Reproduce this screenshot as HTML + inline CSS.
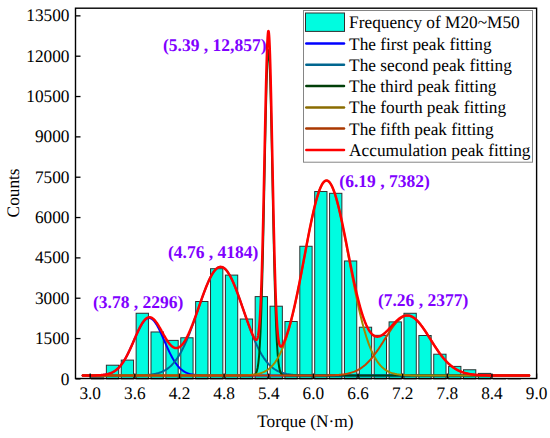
<!DOCTYPE html><html><head><meta charset="utf-8"><style>html,body{margin:0;padding:0;background:#fff;}svg{display:block;}text{font-family:"Liberation Serif",serif;text-rendering:geometricPrecision;}</style></head><body>
<svg width="550" height="438" viewBox="0 0 550 438">
<rect x="0" y="0" width="550" height="438" fill="#fff"/>
<rect x="91.49" y="377.82" width="12.30" height="1.08" fill="#00fce0" stroke="#303030" stroke-width="1.00"/>
<rect x="106.37" y="365.21" width="12.30" height="13.69" fill="#00fce0" stroke="#303030" stroke-width="1.00"/>
<rect x="121.25" y="360.10" width="12.30" height="18.80" fill="#00fce0" stroke="#303030" stroke-width="1.00"/>
<rect x="136.13" y="313.26" width="12.30" height="65.64" fill="#00fce0" stroke="#303030" stroke-width="1.00"/>
<rect x="151.01" y="331.97" width="12.30" height="46.93" fill="#00fce0" stroke="#303030" stroke-width="1.00"/>
<rect x="165.89" y="340.39" width="12.30" height="38.51" fill="#00fce0" stroke="#303030" stroke-width="1.00"/>
<rect x="180.77" y="337.78" width="12.30" height="41.12" fill="#00fce0" stroke="#303030" stroke-width="1.00"/>
<rect x="195.65" y="301.50" width="12.30" height="77.40" fill="#00fce0" stroke="#303030" stroke-width="1.00"/>
<rect x="210.53" y="268.70" width="12.30" height="110.20" fill="#00fce0" stroke="#303030" stroke-width="1.00"/>
<rect x="225.41" y="275.10" width="12.30" height="103.80" fill="#00fce0" stroke="#303030" stroke-width="1.00"/>
<rect x="240.29" y="319.01" width="12.30" height="59.89" fill="#00fce0" stroke="#303030" stroke-width="1.00"/>
<rect x="255.17" y="296.61" width="12.30" height="82.29" fill="#00fce0" stroke="#303030" stroke-width="1.00"/>
<rect x="270.05" y="306.21" width="12.30" height="72.69" fill="#00fce0" stroke="#303030" stroke-width="1.00"/>
<rect x="284.93" y="321.49" width="12.30" height="57.41" fill="#00fce0" stroke="#303030" stroke-width="1.00"/>
<rect x="299.81" y="246.27" width="12.30" height="132.63" fill="#00fce0" stroke="#303030" stroke-width="1.00"/>
<rect x="314.69" y="191.52" width="12.30" height="187.38" fill="#00fce0" stroke="#303030" stroke-width="1.00"/>
<rect x="329.57" y="193.32" width="12.30" height="185.58" fill="#00fce0" stroke="#303030" stroke-width="1.00"/>
<rect x="344.45" y="260.98" width="12.30" height="117.92" fill="#00fce0" stroke="#303030" stroke-width="1.00"/>
<rect x="359.33" y="327.21" width="12.30" height="51.69" fill="#00fce0" stroke="#303030" stroke-width="1.00"/>
<rect x="374.21" y="335.33" width="12.30" height="43.57" fill="#00fce0" stroke="#303030" stroke-width="1.00"/>
<rect x="389.09" y="321.89" width="12.30" height="57.01" fill="#00fce0" stroke="#303030" stroke-width="1.00"/>
<rect x="403.97" y="313.28" width="12.30" height="65.62" fill="#00fce0" stroke="#303030" stroke-width="1.00"/>
<rect x="418.85" y="335.50" width="12.30" height="43.40" fill="#00fce0" stroke="#303030" stroke-width="1.00"/>
<rect x="433.73" y="354.21" width="12.30" height="24.69" fill="#00fce0" stroke="#303030" stroke-width="1.00"/>
<rect x="448.61" y="366.40" width="12.30" height="12.50" fill="#00fce0" stroke="#303030" stroke-width="1.00"/>
<rect x="463.49" y="369.76" width="12.30" height="9.14" fill="#00fce0" stroke="#303030" stroke-width="1.00"/>
<rect x="478.37" y="373.39" width="12.30" height="5.51" fill="#00fce0" stroke="#303030" stroke-width="1.00"/>
<rect x="493.25" y="378.50" width="12.30" height="0.40" fill="#00fce0" stroke="#303030" stroke-width="1.00"/>
<rect x="508.13" y="378.68" width="12.30" height="0.22" fill="#00fce0" stroke="#303030" stroke-width="1.00"/>
<path d="M82.76,375.51 L83.50,375.51 L84.25,375.51 L84.99,375.51 L85.74,375.50 L86.48,375.50 L87.22,375.50 L87.97,375.50 L88.71,375.49 L89.46,375.49 L90.20,375.48 L90.94,375.48 L91.69,375.47 L92.43,375.46 L93.18,375.45 L93.92,375.44 L94.66,375.42 L95.41,375.40 L96.15,375.38 L96.90,375.36 L97.64,375.33 L98.38,375.30 L99.13,375.26 L99.87,375.21 L100.62,375.16 L101.36,375.10 L102.10,375.03 L102.85,374.95 L103.59,374.86 L104.34,374.76 L105.08,374.65 L105.82,374.52 L106.57,374.37 L107.31,374.20 L108.06,374.01 L108.80,373.80 L109.54,373.57 L110.29,373.31 L111.03,373.02 L111.78,372.69 L112.52,372.34 L113.26,371.94 L114.01,371.51 L114.75,371.04 L115.50,370.52 L116.24,369.95 L116.98,369.34 L117.73,368.67 L118.47,367.96 L119.22,367.18 L119.96,366.35 L120.70,365.46 L121.45,364.51 L122.19,363.50 L122.94,362.43 L123.68,361.29 L124.42,360.10 L125.17,358.84 L125.91,357.53 L126.66,356.15 L127.40,354.73 L128.14,353.25 L128.89,351.72 L129.63,350.15 L130.38,348.54 L131.12,346.90 L131.86,345.23 L132.61,343.54 L133.35,341.84 L134.10,340.13 L134.84,338.42 L135.58,336.73 L136.33,335.05 L137.07,333.41 L137.82,331.80 L138.56,330.23 L139.30,328.73 L140.05,327.29 L140.79,325.93 L141.54,324.65 L142.28,323.46 L143.02,322.37 L143.77,321.39 L144.51,320.52 L145.26,319.77 L146.00,319.15 L146.74,318.66 L147.49,318.30 L148.23,318.08 L148.98,317.99 L149.72,318.05 L150.46,318.24 L151.21,318.56 L151.95,319.02 L152.70,319.61 L153.44,320.33 L154.18,321.17 L154.93,322.12 L155.67,323.19 L156.42,324.35 L157.16,325.61 L157.90,326.96 L158.65,328.38 L159.39,329.87 L160.14,331.42 L160.88,333.02 L161.62,334.65 L162.37,336.32 L163.11,338.02 L163.86,339.72 L164.60,341.43 L165.34,343.13 L166.09,344.83 L166.83,346.50 L167.58,348.15 L168.32,349.77 L169.06,351.35 L169.81,352.89 L170.55,354.38 L171.30,355.82 L172.04,357.20 L172.78,358.53 L173.53,359.80 L174.27,361.01 L175.02,362.16 L175.76,363.25 L176.50,364.27 L177.25,365.24 L177.99,366.14 L178.74,366.99 L179.48,367.78 L180.22,368.51 L180.97,369.18 L181.71,369.81 L182.46,370.39 L183.20,370.92 L183.94,371.40 L184.69,371.84 L185.43,372.25 L186.18,372.61 L186.92,372.94 L187.66,373.24 L188.41,373.51 L189.15,373.75 L189.90,373.97 L190.64,374.16 L191.38,374.33 L192.13,374.48 L192.87,374.62 L193.62,374.74 L194.36,374.84 L195.10,374.93 L195.85,375.01 L196.59,375.09 L197.34,375.15 L198.08,375.20 L198.82,375.25 L199.57,375.29 L200.31,375.32 L201.06,375.35 L201.80,375.38 L202.54,375.40 L203.29,375.42 L204.03,375.43 L204.78,375.45 L205.52,375.46 L206.26,375.47 L207.01,375.47 L207.75,375.48 L208.50,375.49 L209.24,375.49 L209.98,375.50 L210.73,375.50 L211.47,375.50 L212.22,375.50 L212.96,375.51 L213.70,375.51 L214.45,375.51 L215.19,375.51 L215.94,375.51 L216.68,375.51 L217.42,375.51 L218.17,375.51 L218.91,375.51 L219.66,375.51 L220.40,375.51 L221.14,375.51 L221.89,375.51 L222.63,375.51 L223.38,375.51 L224.12,375.51 L224.86,375.51 L225.61,375.51 L226.35,375.51 L227.10,375.51 L227.84,375.51 L228.58,375.51 L229.33,375.51 L230.07,375.51 L230.82,375.51 L231.56,375.51 L232.30,375.51 L233.05,375.51 L233.79,375.51 L234.54,375.51 L235.28,375.51 L236.02,375.51 L236.77,375.51 L237.51,375.51 L238.26,375.51 L239.00,375.51 L239.74,375.51 L240.49,375.51 L241.23,375.51 L241.98,375.51 L242.72,375.51 L243.46,375.51 L244.21,375.51 L244.95,375.51 L245.70,375.51 L246.44,375.51 L247.18,375.51 L247.93,375.51 L248.67,375.51 L249.42,375.51 L250.16,375.51 L250.90,375.51 L251.65,375.51 L252.39,375.51 L253.14,375.51 L253.88,375.51 L254.62,375.51 L255.37,375.51 L256.11,375.51 L256.86,375.51 L257.60,375.51 L258.34,375.51 L259.09,375.51 L259.83,375.51 L260.58,375.51 L261.32,375.51 L262.06,375.51 L262.81,375.51 L263.55,375.51 L264.30,375.51 L265.04,375.51 L265.78,375.51 L266.53,375.51 L267.27,375.51 L268.02,375.51 L268.76,375.51 L269.50,375.51 L270.25,375.51 L270.99,375.51 L271.74,375.51 L272.48,375.51 L273.22,375.51 L273.97,375.51 L274.71,375.51 L275.46,375.51 L276.20,375.51 L276.94,375.51 L277.69,375.51 L278.43,375.51 L279.18,375.51 L279.92,375.51 L280.66,375.51 L281.41,375.51 L282.15,375.51 L282.90,375.51 L283.64,375.51 L284.38,375.51 L285.13,375.51 L285.87,375.51 L286.62,375.51 L287.36,375.51 L288.10,375.51 L288.85,375.51 L289.59,375.51 L290.34,375.51 L291.08,375.51 L291.82,375.51 L292.57,375.51 L293.31,375.51 L294.06,375.51 L294.80,375.51 L295.54,375.51 L296.29,375.51 L297.03,375.51 L297.78,375.51 L298.52,375.51 L299.26,375.51 L300.01,375.51 L300.75,375.51 L301.50,375.51 L302.24,375.51 L302.98,375.51 L303.73,375.51 L304.47,375.51 L305.22,375.51 L305.96,375.51 L306.70,375.51 L307.45,375.51 L308.19,375.51 L308.94,375.51 L309.68,375.51 L310.42,375.51 L311.17,375.51 L311.91,375.51 L312.66,375.51 L313.40,375.51 L314.14,375.51 L314.89,375.51 L315.63,375.51 L316.38,375.51 L317.12,375.51 L317.86,375.51 L318.61,375.51 L319.35,375.51 L320.10,375.51 L320.84,375.51 L321.58,375.51 L322.33,375.51 L323.07,375.51 L323.82,375.51 L324.56,375.51 L325.30,375.51 L326.05,375.51 L326.79,375.51 L327.54,375.51 L328.28,375.51 L329.02,375.51 L329.77,375.51 L330.51,375.51 L331.26,375.51 L332.00,375.51 L332.74,375.51 L333.49,375.51 L334.23,375.51 L334.98,375.51 L335.72,375.51 L336.46,375.51 L337.21,375.51 L337.95,375.51 L338.70,375.51 L339.44,375.51 L340.18,375.51 L340.93,375.51 L341.67,375.51 L342.42,375.51 L343.16,375.51 L343.90,375.51 L344.65,375.51 L345.39,375.51 L346.14,375.51 L346.88,375.51 L347.62,375.51 L348.37,375.51 L349.11,375.51 L349.86,375.51 L350.60,375.51 L351.34,375.51 L352.09,375.51 L352.83,375.51 L353.58,375.51 L354.32,375.51 L355.06,375.51 L355.81,375.51 L356.55,375.51 L357.30,375.51 L358.04,375.51 L358.78,375.51 L359.53,375.51 L360.27,375.51 L361.02,375.51 L361.76,375.51 L362.50,375.51 L363.25,375.51 L363.99,375.51 L364.74,375.51 L365.48,375.51 L366.22,375.51 L366.97,375.51 L367.71,375.51 L368.46,375.51 L369.20,375.51 L369.94,375.51 L370.69,375.51 L371.43,375.51 L372.18,375.51 L372.92,375.51 L373.66,375.51 L374.41,375.51 L375.15,375.51 L375.90,375.51 L376.64,375.51 L377.38,375.51 L378.13,375.51 L378.87,375.51 L379.62,375.51 L380.36,375.51 L381.10,375.51 L381.85,375.51 L382.59,375.51 L383.34,375.51 L384.08,375.51 L384.82,375.51 L385.57,375.51 L386.31,375.51 L387.06,375.51 L387.80,375.51 L388.54,375.51 L389.29,375.51 L390.03,375.51 L390.78,375.51 L391.52,375.51 L392.26,375.51 L393.01,375.51 L393.75,375.51 L394.50,375.51 L395.24,375.51 L395.98,375.51 L396.73,375.51 L397.47,375.51 L398.22,375.51 L398.96,375.51 L399.70,375.51 L400.45,375.51 L401.19,375.51 L401.94,375.51 L402.68,375.51 L403.42,375.51 L404.17,375.51 L404.91,375.51 L405.66,375.51 L406.40,375.51 L407.14,375.51 L407.89,375.51 L408.63,375.51 L409.38,375.51 L410.12,375.51 L410.86,375.51 L411.61,375.51 L412.35,375.51 L413.10,375.51 L413.84,375.51 L414.58,375.51 L415.33,375.51 L416.07,375.51 L416.82,375.51 L417.56,375.51 L418.30,375.51 L419.05,375.51 L419.79,375.51 L420.54,375.51 L421.28,375.51 L422.02,375.51 L422.77,375.51 L423.51,375.51 L424.26,375.51 L425.00,375.51 L425.74,375.51 L426.49,375.51 L427.23,375.51 L427.98,375.51 L428.72,375.51 L429.46,375.51 L430.21,375.51 L430.95,375.51 L431.70,375.51 L432.44,375.51 L433.18,375.51 L433.93,375.51 L434.67,375.51 L435.42,375.51 L436.16,375.51 L436.90,375.51 L437.65,375.51 L438.39,375.51 L439.14,375.51 L439.88,375.51 L440.62,375.51 L441.37,375.51 L442.11,375.51 L442.86,375.51 L443.60,375.51 L444.34,375.51 L445.09,375.51 L445.83,375.51 L446.58,375.51 L447.32,375.51 L448.06,375.51 L448.81,375.51 L449.55,375.51 L450.30,375.51 L451.04,375.51 L451.78,375.51 L452.53,375.51 L453.27,375.51 L454.02,375.51 L454.76,375.51 L455.50,375.51 L456.25,375.51 L456.99,375.51 L457.74,375.51 L458.48,375.51 L459.22,375.51 L459.97,375.51 L460.71,375.51 L461.46,375.51 L462.20,375.51 L462.94,375.51 L463.69,375.51 L464.43,375.51 L465.18,375.51 L465.92,375.51 L466.66,375.51 L467.41,375.51 L468.15,375.51 L468.90,375.51 L469.64,375.51 L470.38,375.51 L471.13,375.51 L471.87,375.51 L472.62,375.51 L473.36,375.51 L474.10,375.51 L474.85,375.51 L475.59,375.51 L476.34,375.51 L477.08,375.51 L477.82,375.51 L478.57,375.51 L479.31,375.51 L480.06,375.51 L480.80,375.51 L481.54,375.51 L482.29,375.51 L483.03,375.51 L483.78,375.51 L484.52,375.51 L485.26,375.51 L486.01,375.51 L486.75,375.51 L487.50,375.51 L488.24,375.51 L488.98,375.51 L489.73,375.51 L490.47,375.51 L491.22,375.51 L491.96,375.51 L492.70,375.51 L493.45,375.51 L494.19,375.51 L494.94,375.51 L495.68,375.51 L496.42,375.51 L497.17,375.51 L497.91,375.51 L498.66,375.51 L499.40,375.51 L500.14,375.51 L500.89,375.51 L501.63,375.51 L502.38,375.51 L503.12,375.51 L503.86,375.51 L504.61,375.51 L505.35,375.51 L506.10,375.51 L506.84,375.51 L507.58,375.51 L508.33,375.51 L509.07,375.51 L509.82,375.51 L510.56,375.51 L511.30,375.51 L512.05,375.51 L512.79,375.51 L513.54,375.51 L514.28,375.51 L515.02,375.51 L515.77,375.51 L516.51,375.51 L517.26,375.51 L518.00,375.51 L518.74,375.51 L519.49,375.51 L520.23,375.51 L520.98,375.51 L521.72,375.51 L522.46,375.51 L523.21,375.51 L523.95,375.51 L524.70,375.51 L525.44,375.51 L526.18,375.51 L526.93,375.51 L527.67,375.51 L528.42,375.51 L529.16,375.51" fill="none" stroke="#0000ff" stroke-width="2.00" stroke-linejoin="round" stroke-linecap="round"/>
<path d="M82.76,375.51 L83.50,375.51 L84.25,375.51 L84.99,375.51 L85.74,375.51 L86.48,375.51 L87.22,375.51 L87.97,375.51 L88.71,375.51 L89.46,375.51 L90.20,375.51 L90.94,375.51 L91.69,375.51 L92.43,375.51 L93.18,375.51 L93.92,375.51 L94.66,375.51 L95.41,375.51 L96.15,375.51 L96.90,375.51 L97.64,375.51 L98.38,375.51 L99.13,375.51 L99.87,375.51 L100.62,375.51 L101.36,375.51 L102.10,375.51 L102.85,375.51 L103.59,375.51 L104.34,375.51 L105.08,375.51 L105.82,375.51 L106.57,375.51 L107.31,375.51 L108.06,375.51 L108.80,375.51 L109.54,375.51 L110.29,375.51 L111.03,375.51 L111.78,375.51 L112.52,375.51 L113.26,375.51 L114.01,375.51 L114.75,375.51 L115.50,375.51 L116.24,375.51 L116.98,375.51 L117.73,375.51 L118.47,375.51 L119.22,375.51 L119.96,375.51 L120.70,375.51 L121.45,375.51 L122.19,375.51 L122.94,375.50 L123.68,375.50 L124.42,375.50 L125.17,375.50 L125.91,375.50 L126.66,375.49 L127.40,375.49 L128.14,375.49 L128.89,375.49 L129.63,375.48 L130.38,375.48 L131.12,375.47 L131.86,375.47 L132.61,375.46 L133.35,375.45 L134.10,375.44 L134.84,375.43 L135.58,375.42 L136.33,375.41 L137.07,375.40 L137.82,375.38 L138.56,375.36 L139.30,375.34 L140.05,375.32 L140.79,375.30 L141.54,375.27 L142.28,375.24 L143.02,375.21 L143.77,375.18 L144.51,375.14 L145.26,375.09 L146.00,375.04 L146.74,374.99 L147.49,374.93 L148.23,374.87 L148.98,374.79 L149.72,374.72 L150.46,374.63 L151.21,374.54 L151.95,374.43 L152.70,374.32 L153.44,374.20 L154.18,374.06 L154.93,373.91 L155.67,373.76 L156.42,373.58 L157.16,373.39 L157.90,373.19 L158.65,372.97 L159.39,372.73 L160.14,372.47 L160.88,372.20 L161.62,371.90 L162.37,371.58 L163.11,371.23 L163.86,370.86 L164.60,370.46 L165.34,370.04 L166.09,369.58 L166.83,369.09 L167.58,368.58 L168.32,368.02 L169.06,367.44 L169.81,366.81 L170.55,366.15 L171.30,365.45 L172.04,364.70 L172.78,363.92 L173.53,363.09 L174.27,362.22 L175.02,361.30 L175.76,360.33 L176.50,359.32 L177.25,358.25 L177.99,357.14 L178.74,355.97 L179.48,354.76 L180.22,353.49 L180.97,352.17 L181.71,350.80 L182.46,349.37 L183.20,347.90 L183.94,346.37 L184.69,344.79 L185.43,343.16 L186.18,341.47 L186.92,339.75 L187.66,337.97 L188.41,336.15 L189.15,334.28 L189.90,332.37 L190.64,330.42 L191.38,328.44 L192.13,326.42 L192.87,324.37 L193.62,322.29 L194.36,320.19 L195.10,318.07 L195.85,315.93 L196.59,313.77 L197.34,311.61 L198.08,309.45 L198.82,307.28 L199.57,305.12 L200.31,302.97 L201.06,300.83 L201.80,298.72 L202.54,296.63 L203.29,294.57 L204.03,292.54 L204.78,290.56 L205.52,288.63 L206.26,286.74 L207.01,284.92 L207.75,283.15 L208.50,281.46 L209.24,279.83 L209.98,278.29 L210.73,276.82 L211.47,275.44 L212.22,274.16 L212.96,272.96 L213.70,271.87 L214.45,270.87 L215.19,269.98 L215.94,269.20 L216.68,268.53 L217.42,267.97 L218.17,267.52 L218.91,267.19 L219.66,266.97 L220.40,266.88 L221.14,266.90 L221.89,267.03 L222.63,267.29 L223.38,267.66 L224.12,268.14 L224.86,268.74 L225.61,269.45 L226.35,270.27 L227.10,271.20 L227.84,272.23 L228.58,273.36 L229.33,274.58 L230.07,275.90 L230.82,277.31 L231.56,278.80 L232.30,280.38 L233.05,282.03 L233.79,283.75 L234.54,285.53 L235.28,287.38 L236.02,289.28 L236.77,291.23 L237.51,293.23 L238.26,295.26 L239.00,297.33 L239.74,299.43 L240.49,301.56 L241.23,303.70 L241.98,305.85 L242.72,308.02 L243.46,310.18 L244.21,312.35 L244.95,314.51 L245.70,316.66 L246.44,318.79 L247.18,320.91 L247.93,323.00 L248.67,325.07 L249.42,327.11 L250.16,329.12 L250.90,331.09 L251.65,333.03 L252.39,334.92 L253.14,336.77 L253.88,338.58 L254.62,340.34 L255.37,342.05 L256.11,343.72 L256.86,345.33 L257.60,346.89 L258.34,348.40 L259.09,349.86 L259.83,351.27 L260.58,352.62 L261.32,353.93 L262.06,355.18 L262.81,356.38 L263.55,357.52 L264.30,358.62 L265.04,359.67 L265.78,360.67 L266.53,361.62 L267.27,362.52 L268.02,363.38 L268.76,364.19 L269.50,364.96 L270.25,365.69 L270.99,366.38 L271.74,367.03 L272.48,367.64 L273.22,368.21 L273.97,368.76 L274.71,369.26 L275.46,369.74 L276.20,370.18 L276.94,370.60 L277.69,370.99 L278.43,371.35 L279.18,371.69 L279.92,372.00 L280.66,372.29 L281.41,372.56 L282.15,372.82 L282.90,373.05 L283.64,373.26 L284.38,373.46 L285.13,373.64 L285.87,373.81 L286.62,373.97 L287.36,374.11 L288.10,374.24 L288.85,374.36 L289.59,374.47 L290.34,374.57 L291.08,374.66 L291.82,374.74 L292.57,374.82 L293.31,374.89 L294.06,374.95 L294.80,375.01 L295.54,375.06 L296.29,375.11 L297.03,375.15 L297.78,375.19 L298.52,375.22 L299.26,375.25 L300.01,375.28 L300.75,375.31 L301.50,375.33 L302.24,375.35 L302.98,375.37 L303.73,375.39 L304.47,375.40 L305.22,375.41 L305.96,375.43 L306.70,375.44 L307.45,375.45 L308.19,375.45 L308.94,375.46 L309.68,375.47 L310.42,375.47 L311.17,375.48 L311.91,375.48 L312.66,375.49 L313.40,375.49 L314.14,375.49 L314.89,375.50 L315.63,375.50 L316.38,375.50 L317.12,375.50 L317.86,375.50 L318.61,375.51 L319.35,375.51 L320.10,375.51 L320.84,375.51 L321.58,375.51 L322.33,375.51 L323.07,375.51 L323.82,375.51 L324.56,375.51 L325.30,375.51 L326.05,375.51 L326.79,375.51 L327.54,375.51 L328.28,375.51 L329.02,375.51 L329.77,375.51 L330.51,375.51 L331.26,375.51 L332.00,375.51 L332.74,375.51 L333.49,375.51 L334.23,375.51 L334.98,375.51 L335.72,375.51 L336.46,375.51 L337.21,375.51 L337.95,375.51 L338.70,375.51 L339.44,375.51 L340.18,375.51 L340.93,375.51 L341.67,375.51 L342.42,375.51 L343.16,375.51 L343.90,375.51 L344.65,375.51 L345.39,375.51 L346.14,375.51 L346.88,375.51 L347.62,375.51 L348.37,375.51 L349.11,375.51 L349.86,375.51 L350.60,375.51 L351.34,375.51 L352.09,375.51 L352.83,375.51 L353.58,375.51 L354.32,375.51 L355.06,375.51 L355.81,375.51 L356.55,375.51 L357.30,375.51 L358.04,375.51 L358.78,375.51 L359.53,375.51 L360.27,375.51 L361.02,375.51 L361.76,375.51 L362.50,375.51 L363.25,375.51 L363.99,375.51 L364.74,375.51 L365.48,375.51 L366.22,375.51 L366.97,375.51 L367.71,375.51 L368.46,375.51 L369.20,375.51 L369.94,375.51 L370.69,375.51 L371.43,375.51 L372.18,375.51 L372.92,375.51 L373.66,375.51 L374.41,375.51 L375.15,375.51 L375.90,375.51 L376.64,375.51 L377.38,375.51 L378.13,375.51 L378.87,375.51 L379.62,375.51 L380.36,375.51 L381.10,375.51 L381.85,375.51 L382.59,375.51 L383.34,375.51 L384.08,375.51 L384.82,375.51 L385.57,375.51 L386.31,375.51 L387.06,375.51 L387.80,375.51 L388.54,375.51 L389.29,375.51 L390.03,375.51 L390.78,375.51 L391.52,375.51 L392.26,375.51 L393.01,375.51 L393.75,375.51 L394.50,375.51 L395.24,375.51 L395.98,375.51 L396.73,375.51 L397.47,375.51 L398.22,375.51 L398.96,375.51 L399.70,375.51 L400.45,375.51 L401.19,375.51 L401.94,375.51 L402.68,375.51 L403.42,375.51 L404.17,375.51 L404.91,375.51 L405.66,375.51 L406.40,375.51 L407.14,375.51 L407.89,375.51 L408.63,375.51 L409.38,375.51 L410.12,375.51 L410.86,375.51 L411.61,375.51 L412.35,375.51 L413.10,375.51 L413.84,375.51 L414.58,375.51 L415.33,375.51 L416.07,375.51 L416.82,375.51 L417.56,375.51 L418.30,375.51 L419.05,375.51 L419.79,375.51 L420.54,375.51 L421.28,375.51 L422.02,375.51 L422.77,375.51 L423.51,375.51 L424.26,375.51 L425.00,375.51 L425.74,375.51 L426.49,375.51 L427.23,375.51 L427.98,375.51 L428.72,375.51 L429.46,375.51 L430.21,375.51 L430.95,375.51 L431.70,375.51 L432.44,375.51 L433.18,375.51 L433.93,375.51 L434.67,375.51 L435.42,375.51 L436.16,375.51 L436.90,375.51 L437.65,375.51 L438.39,375.51 L439.14,375.51 L439.88,375.51 L440.62,375.51 L441.37,375.51 L442.11,375.51 L442.86,375.51 L443.60,375.51 L444.34,375.51 L445.09,375.51 L445.83,375.51 L446.58,375.51 L447.32,375.51 L448.06,375.51 L448.81,375.51 L449.55,375.51 L450.30,375.51 L451.04,375.51 L451.78,375.51 L452.53,375.51 L453.27,375.51 L454.02,375.51 L454.76,375.51 L455.50,375.51 L456.25,375.51 L456.99,375.51 L457.74,375.51 L458.48,375.51 L459.22,375.51 L459.97,375.51 L460.71,375.51 L461.46,375.51 L462.20,375.51 L462.94,375.51 L463.69,375.51 L464.43,375.51 L465.18,375.51 L465.92,375.51 L466.66,375.51 L467.41,375.51 L468.15,375.51 L468.90,375.51 L469.64,375.51 L470.38,375.51 L471.13,375.51 L471.87,375.51 L472.62,375.51 L473.36,375.51 L474.10,375.51 L474.85,375.51 L475.59,375.51 L476.34,375.51 L477.08,375.51 L477.82,375.51 L478.57,375.51 L479.31,375.51 L480.06,375.51 L480.80,375.51 L481.54,375.51 L482.29,375.51 L483.03,375.51 L483.78,375.51 L484.52,375.51 L485.26,375.51 L486.01,375.51 L486.75,375.51 L487.50,375.51 L488.24,375.51 L488.98,375.51 L489.73,375.51 L490.47,375.51 L491.22,375.51 L491.96,375.51 L492.70,375.51 L493.45,375.51 L494.19,375.51 L494.94,375.51 L495.68,375.51 L496.42,375.51 L497.17,375.51 L497.91,375.51 L498.66,375.51 L499.40,375.51 L500.14,375.51 L500.89,375.51 L501.63,375.51 L502.38,375.51 L503.12,375.51 L503.86,375.51 L504.61,375.51 L505.35,375.51 L506.10,375.51 L506.84,375.51 L507.58,375.51 L508.33,375.51 L509.07,375.51 L509.82,375.51 L510.56,375.51 L511.30,375.51 L512.05,375.51 L512.79,375.51 L513.54,375.51 L514.28,375.51 L515.02,375.51 L515.77,375.51 L516.51,375.51 L517.26,375.51 L518.00,375.51 L518.74,375.51 L519.49,375.51 L520.23,375.51 L520.98,375.51 L521.72,375.51 L522.46,375.51 L523.21,375.51 L523.95,375.51 L524.70,375.51 L525.44,375.51 L526.18,375.51 L526.93,375.51 L527.67,375.51 L528.42,375.51 L529.16,375.51" fill="none" stroke="#00689a" stroke-width="2.00" stroke-linejoin="round" stroke-linecap="round"/>
<path d="M82.76,375.51 L83.50,375.51 L84.25,375.51 L84.99,375.51 L85.74,375.51 L86.48,375.51 L87.22,375.51 L87.97,375.51 L88.71,375.51 L89.46,375.51 L90.20,375.51 L90.94,375.51 L91.69,375.51 L92.43,375.51 L93.18,375.51 L93.92,375.51 L94.66,375.51 L95.41,375.51 L96.15,375.51 L96.90,375.51 L97.64,375.51 L98.38,375.51 L99.13,375.51 L99.87,375.51 L100.62,375.51 L101.36,375.51 L102.10,375.51 L102.85,375.51 L103.59,375.51 L104.34,375.51 L105.08,375.51 L105.82,375.51 L106.57,375.51 L107.31,375.51 L108.06,375.51 L108.80,375.51 L109.54,375.51 L110.29,375.51 L111.03,375.51 L111.78,375.51 L112.52,375.51 L113.26,375.51 L114.01,375.51 L114.75,375.51 L115.50,375.51 L116.24,375.51 L116.98,375.51 L117.73,375.51 L118.47,375.51 L119.22,375.51 L119.96,375.51 L120.70,375.51 L121.45,375.51 L122.19,375.51 L122.94,375.51 L123.68,375.51 L124.42,375.51 L125.17,375.51 L125.91,375.51 L126.66,375.51 L127.40,375.51 L128.14,375.51 L128.89,375.51 L129.63,375.51 L130.38,375.51 L131.12,375.51 L131.86,375.51 L132.61,375.51 L133.35,375.51 L134.10,375.51 L134.84,375.51 L135.58,375.51 L136.33,375.51 L137.07,375.51 L137.82,375.51 L138.56,375.51 L139.30,375.51 L140.05,375.51 L140.79,375.51 L141.54,375.51 L142.28,375.51 L143.02,375.51 L143.77,375.51 L144.51,375.51 L145.26,375.51 L146.00,375.51 L146.74,375.51 L147.49,375.51 L148.23,375.51 L148.98,375.51 L149.72,375.51 L150.46,375.51 L151.21,375.51 L151.95,375.51 L152.70,375.51 L153.44,375.51 L154.18,375.51 L154.93,375.51 L155.67,375.51 L156.42,375.51 L157.16,375.51 L157.90,375.51 L158.65,375.51 L159.39,375.51 L160.14,375.51 L160.88,375.51 L161.62,375.51 L162.37,375.51 L163.11,375.51 L163.86,375.51 L164.60,375.51 L165.34,375.51 L166.09,375.51 L166.83,375.51 L167.58,375.51 L168.32,375.51 L169.06,375.51 L169.81,375.51 L170.55,375.51 L171.30,375.51 L172.04,375.51 L172.78,375.51 L173.53,375.51 L174.27,375.51 L175.02,375.51 L175.76,375.51 L176.50,375.51 L177.25,375.51 L177.99,375.51 L178.74,375.51 L179.48,375.51 L180.22,375.51 L180.97,375.51 L181.71,375.51 L182.46,375.51 L183.20,375.51 L183.94,375.51 L184.69,375.51 L185.43,375.51 L186.18,375.51 L186.92,375.51 L187.66,375.51 L188.41,375.51 L189.15,375.51 L189.90,375.51 L190.64,375.51 L191.38,375.51 L192.13,375.51 L192.87,375.51 L193.62,375.51 L194.36,375.51 L195.10,375.51 L195.85,375.51 L196.59,375.51 L197.34,375.51 L198.08,375.51 L198.82,375.51 L199.57,375.51 L200.31,375.51 L201.06,375.51 L201.80,375.51 L202.54,375.51 L203.29,375.51 L204.03,375.51 L204.78,375.51 L205.52,375.51 L206.26,375.51 L207.01,375.51 L207.75,375.51 L208.50,375.51 L209.24,375.51 L209.98,375.51 L210.73,375.51 L211.47,375.51 L212.22,375.51 L212.96,375.51 L213.70,375.51 L214.45,375.51 L215.19,375.51 L215.94,375.51 L216.68,375.51 L217.42,375.51 L218.17,375.51 L218.91,375.51 L219.66,375.51 L220.40,375.51 L221.14,375.51 L221.89,375.51 L222.63,375.51 L223.38,375.51 L224.12,375.51 L224.86,375.51 L225.61,375.51 L226.35,375.51 L227.10,375.51 L227.84,375.51 L228.58,375.51 L229.33,375.51 L230.07,375.51 L230.82,375.51 L231.56,375.51 L232.30,375.51 L233.05,375.51 L233.79,375.51 L234.54,375.51 L235.28,375.51 L236.02,375.51 L236.77,375.51 L237.51,375.51 L238.26,375.51 L239.00,375.51 L239.74,375.51 L240.49,375.51 L241.23,375.51 L241.98,375.51 L242.72,375.51 L243.46,375.51 L244.21,375.51 L244.95,375.51 L245.70,375.51 L246.44,375.51 L247.18,375.51 L247.93,375.51 L248.67,375.51 L249.42,375.51 L250.16,375.51 L250.90,375.50 L251.65,375.48 L252.39,375.43 L253.14,375.34 L253.88,375.15 L254.62,374.80 L255.37,374.15 L256.11,373.02 L256.86,371.10 L257.60,367.98 L258.34,363.11 L259.09,355.78 L259.83,345.23 L260.58,330.65 L261.32,311.38 L262.06,287.01 L262.81,257.64 L263.55,223.99 L264.30,187.53 L265.04,150.42 L265.78,115.37 L266.53,85.35 L267.27,63.13 L268.02,50.93 L268.76,50.01 L269.50,60.46 L270.25,81.20 L270.99,110.15 L271.74,144.60 L272.48,181.57 L273.22,218.30 L273.97,252.51 L274.71,282.64 L275.46,307.82 L276.20,327.90 L276.94,343.19 L277.69,354.33 L278.43,362.12 L279.18,367.34 L279.92,370.70 L280.66,372.78 L281.41,374.01 L282.15,374.72 L282.90,375.11 L283.64,375.31 L284.38,375.42 L285.13,375.47 L285.87,375.49 L286.62,375.51 L287.36,375.51 L288.10,375.51 L288.85,375.51 L289.59,375.51 L290.34,375.51 L291.08,375.51 L291.82,375.51 L292.57,375.51 L293.31,375.51 L294.06,375.51 L294.80,375.51 L295.54,375.51 L296.29,375.51 L297.03,375.51 L297.78,375.51 L298.52,375.51 L299.26,375.51 L300.01,375.51 L300.75,375.51 L301.50,375.51 L302.24,375.51 L302.98,375.51 L303.73,375.51 L304.47,375.51 L305.22,375.51 L305.96,375.51 L306.70,375.51 L307.45,375.51 L308.19,375.51 L308.94,375.51 L309.68,375.51 L310.42,375.51 L311.17,375.51 L311.91,375.51 L312.66,375.51 L313.40,375.51 L314.14,375.51 L314.89,375.51 L315.63,375.51 L316.38,375.51 L317.12,375.51 L317.86,375.51 L318.61,375.51 L319.35,375.51 L320.10,375.51 L320.84,375.51 L321.58,375.51 L322.33,375.51 L323.07,375.51 L323.82,375.51 L324.56,375.51 L325.30,375.51 L326.05,375.51 L326.79,375.51 L327.54,375.51 L328.28,375.51 L329.02,375.51 L329.77,375.51 L330.51,375.51 L331.26,375.51 L332.00,375.51 L332.74,375.51 L333.49,375.51 L334.23,375.51 L334.98,375.51 L335.72,375.51 L336.46,375.51 L337.21,375.51 L337.95,375.51 L338.70,375.51 L339.44,375.51 L340.18,375.51 L340.93,375.51 L341.67,375.51 L342.42,375.51 L343.16,375.51 L343.90,375.51 L344.65,375.51 L345.39,375.51 L346.14,375.51 L346.88,375.51 L347.62,375.51 L348.37,375.51 L349.11,375.51 L349.86,375.51 L350.60,375.51 L351.34,375.51 L352.09,375.51 L352.83,375.51 L353.58,375.51 L354.32,375.51 L355.06,375.51 L355.81,375.51 L356.55,375.51 L357.30,375.51 L358.04,375.51 L358.78,375.51 L359.53,375.51 L360.27,375.51 L361.02,375.51 L361.76,375.51 L362.50,375.51 L363.25,375.51 L363.99,375.51 L364.74,375.51 L365.48,375.51 L366.22,375.51 L366.97,375.51 L367.71,375.51 L368.46,375.51 L369.20,375.51 L369.94,375.51 L370.69,375.51 L371.43,375.51 L372.18,375.51 L372.92,375.51 L373.66,375.51 L374.41,375.51 L375.15,375.51 L375.90,375.51 L376.64,375.51 L377.38,375.51 L378.13,375.51 L378.87,375.51 L379.62,375.51 L380.36,375.51 L381.10,375.51 L381.85,375.51 L382.59,375.51 L383.34,375.51 L384.08,375.51 L384.82,375.51 L385.57,375.51 L386.31,375.51 L387.06,375.51 L387.80,375.51 L388.54,375.51 L389.29,375.51 L390.03,375.51 L390.78,375.51 L391.52,375.51 L392.26,375.51 L393.01,375.51 L393.75,375.51 L394.50,375.51 L395.24,375.51 L395.98,375.51 L396.73,375.51 L397.47,375.51 L398.22,375.51 L398.96,375.51 L399.70,375.51 L400.45,375.51 L401.19,375.51 L401.94,375.51 L402.68,375.51 L403.42,375.51 L404.17,375.51 L404.91,375.51 L405.66,375.51 L406.40,375.51 L407.14,375.51 L407.89,375.51 L408.63,375.51 L409.38,375.51 L410.12,375.51 L410.86,375.51 L411.61,375.51 L412.35,375.51 L413.10,375.51 L413.84,375.51 L414.58,375.51 L415.33,375.51 L416.07,375.51 L416.82,375.51 L417.56,375.51 L418.30,375.51 L419.05,375.51 L419.79,375.51 L420.54,375.51 L421.28,375.51 L422.02,375.51 L422.77,375.51 L423.51,375.51 L424.26,375.51 L425.00,375.51 L425.74,375.51 L426.49,375.51 L427.23,375.51 L427.98,375.51 L428.72,375.51 L429.46,375.51 L430.21,375.51 L430.95,375.51 L431.70,375.51 L432.44,375.51 L433.18,375.51 L433.93,375.51 L434.67,375.51 L435.42,375.51 L436.16,375.51 L436.90,375.51 L437.65,375.51 L438.39,375.51 L439.14,375.51 L439.88,375.51 L440.62,375.51 L441.37,375.51 L442.11,375.51 L442.86,375.51 L443.60,375.51 L444.34,375.51 L445.09,375.51 L445.83,375.51 L446.58,375.51 L447.32,375.51 L448.06,375.51 L448.81,375.51 L449.55,375.51 L450.30,375.51 L451.04,375.51 L451.78,375.51 L452.53,375.51 L453.27,375.51 L454.02,375.51 L454.76,375.51 L455.50,375.51 L456.25,375.51 L456.99,375.51 L457.74,375.51 L458.48,375.51 L459.22,375.51 L459.97,375.51 L460.71,375.51 L461.46,375.51 L462.20,375.51 L462.94,375.51 L463.69,375.51 L464.43,375.51 L465.18,375.51 L465.92,375.51 L466.66,375.51 L467.41,375.51 L468.15,375.51 L468.90,375.51 L469.64,375.51 L470.38,375.51 L471.13,375.51 L471.87,375.51 L472.62,375.51 L473.36,375.51 L474.10,375.51 L474.85,375.51 L475.59,375.51 L476.34,375.51 L477.08,375.51 L477.82,375.51 L478.57,375.51 L479.31,375.51 L480.06,375.51 L480.80,375.51 L481.54,375.51 L482.29,375.51 L483.03,375.51 L483.78,375.51 L484.52,375.51 L485.26,375.51 L486.01,375.51 L486.75,375.51 L487.50,375.51 L488.24,375.51 L488.98,375.51 L489.73,375.51 L490.47,375.51 L491.22,375.51 L491.96,375.51 L492.70,375.51 L493.45,375.51 L494.19,375.51 L494.94,375.51 L495.68,375.51 L496.42,375.51 L497.17,375.51 L497.91,375.51 L498.66,375.51 L499.40,375.51 L500.14,375.51 L500.89,375.51 L501.63,375.51 L502.38,375.51 L503.12,375.51 L503.86,375.51 L504.61,375.51 L505.35,375.51 L506.10,375.51 L506.84,375.51 L507.58,375.51 L508.33,375.51 L509.07,375.51 L509.82,375.51 L510.56,375.51 L511.30,375.51 L512.05,375.51 L512.79,375.51 L513.54,375.51 L514.28,375.51 L515.02,375.51 L515.77,375.51 L516.51,375.51 L517.26,375.51 L518.00,375.51 L518.74,375.51 L519.49,375.51 L520.23,375.51 L520.98,375.51 L521.72,375.51 L522.46,375.51 L523.21,375.51 L523.95,375.51 L524.70,375.51 L525.44,375.51 L526.18,375.51 L526.93,375.51 L527.67,375.51 L528.42,375.51 L529.16,375.51" fill="none" stroke="#004808" stroke-width="2.00" stroke-linejoin="round" stroke-linecap="round"/>
<path d="M82.76,375.51 L83.50,375.51 L84.25,375.51 L84.99,375.51 L85.74,375.51 L86.48,375.51 L87.22,375.51 L87.97,375.51 L88.71,375.51 L89.46,375.51 L90.20,375.51 L90.94,375.51 L91.69,375.51 L92.43,375.51 L93.18,375.51 L93.92,375.51 L94.66,375.51 L95.41,375.51 L96.15,375.51 L96.90,375.51 L97.64,375.51 L98.38,375.51 L99.13,375.51 L99.87,375.51 L100.62,375.51 L101.36,375.51 L102.10,375.51 L102.85,375.51 L103.59,375.51 L104.34,375.51 L105.08,375.51 L105.82,375.51 L106.57,375.51 L107.31,375.51 L108.06,375.51 L108.80,375.51 L109.54,375.51 L110.29,375.51 L111.03,375.51 L111.78,375.51 L112.52,375.51 L113.26,375.51 L114.01,375.51 L114.75,375.51 L115.50,375.51 L116.24,375.51 L116.98,375.51 L117.73,375.51 L118.47,375.51 L119.22,375.51 L119.96,375.51 L120.70,375.51 L121.45,375.51 L122.19,375.51 L122.94,375.51 L123.68,375.51 L124.42,375.51 L125.17,375.51 L125.91,375.51 L126.66,375.51 L127.40,375.51 L128.14,375.51 L128.89,375.51 L129.63,375.51 L130.38,375.51 L131.12,375.51 L131.86,375.51 L132.61,375.51 L133.35,375.51 L134.10,375.51 L134.84,375.51 L135.58,375.51 L136.33,375.51 L137.07,375.51 L137.82,375.51 L138.56,375.51 L139.30,375.51 L140.05,375.51 L140.79,375.51 L141.54,375.51 L142.28,375.51 L143.02,375.51 L143.77,375.51 L144.51,375.51 L145.26,375.51 L146.00,375.51 L146.74,375.51 L147.49,375.51 L148.23,375.51 L148.98,375.51 L149.72,375.51 L150.46,375.51 L151.21,375.51 L151.95,375.51 L152.70,375.51 L153.44,375.51 L154.18,375.51 L154.93,375.51 L155.67,375.51 L156.42,375.51 L157.16,375.51 L157.90,375.51 L158.65,375.51 L159.39,375.51 L160.14,375.51 L160.88,375.51 L161.62,375.51 L162.37,375.51 L163.11,375.51 L163.86,375.51 L164.60,375.51 L165.34,375.51 L166.09,375.51 L166.83,375.51 L167.58,375.51 L168.32,375.51 L169.06,375.51 L169.81,375.51 L170.55,375.51 L171.30,375.51 L172.04,375.51 L172.78,375.51 L173.53,375.51 L174.27,375.51 L175.02,375.51 L175.76,375.51 L176.50,375.51 L177.25,375.51 L177.99,375.51 L178.74,375.51 L179.48,375.51 L180.22,375.51 L180.97,375.51 L181.71,375.51 L182.46,375.51 L183.20,375.51 L183.94,375.51 L184.69,375.51 L185.43,375.51 L186.18,375.51 L186.92,375.51 L187.66,375.51 L188.41,375.51 L189.15,375.51 L189.90,375.51 L190.64,375.51 L191.38,375.51 L192.13,375.51 L192.87,375.51 L193.62,375.51 L194.36,375.51 L195.10,375.51 L195.85,375.51 L196.59,375.51 L197.34,375.51 L198.08,375.51 L198.82,375.51 L199.57,375.51 L200.31,375.51 L201.06,375.51 L201.80,375.51 L202.54,375.51 L203.29,375.51 L204.03,375.51 L204.78,375.51 L205.52,375.51 L206.26,375.51 L207.01,375.51 L207.75,375.51 L208.50,375.51 L209.24,375.51 L209.98,375.51 L210.73,375.51 L211.47,375.51 L212.22,375.51 L212.96,375.51 L213.70,375.51 L214.45,375.51 L215.19,375.51 L215.94,375.51 L216.68,375.51 L217.42,375.51 L218.17,375.51 L218.91,375.51 L219.66,375.51 L220.40,375.51 L221.14,375.51 L221.89,375.51 L222.63,375.51 L223.38,375.51 L224.12,375.51 L224.86,375.51 L225.61,375.51 L226.35,375.51 L227.10,375.51 L227.84,375.50 L228.58,375.50 L229.33,375.50 L230.07,375.50 L230.82,375.50 L231.56,375.49 L232.30,375.49 L233.05,375.49 L233.79,375.48 L234.54,375.48 L235.28,375.47 L236.02,375.47 L236.77,375.46 L237.51,375.45 L238.26,375.44 L239.00,375.43 L239.74,375.42 L240.49,375.41 L241.23,375.40 L241.98,375.38 L242.72,375.36 L243.46,375.34 L244.21,375.32 L244.95,375.29 L245.70,375.26 L246.44,375.23 L247.18,375.19 L247.93,375.15 L248.67,375.10 L249.42,375.05 L250.16,375.00 L250.90,374.93 L251.65,374.86 L252.39,374.79 L253.14,374.70 L253.88,374.60 L254.62,374.50 L255.37,374.38 L256.11,374.26 L256.86,374.11 L257.60,373.96 L258.34,373.79 L259.09,373.60 L259.83,373.40 L260.58,373.18 L261.32,372.93 L262.06,372.67 L262.81,372.37 L263.55,372.06 L264.30,371.72 L265.04,371.34 L265.78,370.94 L266.53,370.50 L267.27,370.03 L268.02,369.51 L268.76,368.96 L269.50,368.37 L270.25,367.73 L270.99,367.04 L271.74,366.30 L272.48,365.51 L273.22,364.67 L273.97,363.76 L274.71,362.79 L275.46,361.76 L276.20,360.67 L276.94,359.50 L277.69,358.26 L278.43,356.95 L279.18,355.56 L279.92,354.09 L280.66,352.54 L281.41,350.90 L282.15,349.17 L282.90,347.36 L283.64,345.46 L284.38,343.46 L285.13,341.37 L285.87,339.18 L286.62,336.90 L287.36,334.51 L288.10,332.03 L288.85,329.46 L289.59,326.78 L290.34,324.01 L291.08,321.14 L291.82,318.18 L292.57,315.12 L293.31,311.97 L294.06,308.74 L294.80,305.41 L295.54,302.01 L296.29,298.52 L297.03,294.96 L297.78,291.33 L298.52,287.64 L299.26,283.89 L300.01,280.09 L300.75,276.24 L301.50,272.35 L302.24,268.43 L302.98,264.48 L303.73,260.52 L304.47,256.56 L305.22,252.59 L305.96,248.64 L306.70,244.70 L307.45,240.80 L308.19,236.93 L308.94,233.12 L309.68,229.36 L310.42,225.68 L311.17,222.07 L311.91,218.56 L312.66,215.14 L313.40,211.84 L314.14,208.65 L314.89,205.60 L315.63,202.68 L316.38,199.91 L317.12,197.30 L317.86,194.86 L318.61,192.58 L319.35,190.49 L320.10,188.58 L320.84,186.87 L321.58,185.35 L322.33,184.04 L323.07,182.94 L323.82,182.05 L324.56,181.37 L325.30,180.91 L326.05,180.67 L326.79,180.65 L327.54,180.84 L328.28,181.26 L329.02,181.89 L329.77,182.74 L330.51,183.80 L331.26,185.07 L332.00,186.55 L332.74,188.22 L333.49,190.09 L334.23,192.15 L334.98,194.39 L335.72,196.80 L336.46,199.38 L337.21,202.12 L337.95,205.00 L338.70,208.03 L339.44,211.19 L340.18,214.47 L340.93,217.87 L341.67,221.36 L342.42,224.95 L343.16,228.62 L343.90,232.36 L344.65,236.17 L345.39,240.02 L346.14,243.92 L346.88,247.85 L347.62,251.80 L348.37,255.76 L349.11,259.73 L349.86,263.69 L350.60,267.64 L351.34,271.57 L352.09,275.46 L352.83,279.32 L353.58,283.13 L354.32,286.90 L355.06,290.60 L355.81,294.24 L356.55,297.82 L357.30,301.32 L358.04,304.74 L358.78,308.08 L359.53,311.33 L360.27,314.50 L361.02,317.57 L361.76,320.56 L362.50,323.44 L363.25,326.24 L363.99,328.93 L364.74,331.53 L365.48,334.03 L366.22,336.43 L366.97,338.73 L367.71,340.94 L368.46,343.05 L369.20,345.06 L369.94,346.99 L370.69,348.82 L371.43,350.56 L372.18,352.22 L372.92,353.79 L373.66,355.27 L374.41,356.68 L375.15,358.01 L375.90,359.26 L376.64,360.44 L377.38,361.55 L378.13,362.59 L378.87,363.57 L379.62,364.49 L380.36,365.35 L381.10,366.15 L381.85,366.90 L382.59,367.59 L383.34,368.24 L384.08,368.85 L384.82,369.41 L385.57,369.93 L386.31,370.41 L387.06,370.85 L387.80,371.26 L388.54,371.64 L389.29,371.99 L390.03,372.31 L390.78,372.61 L391.52,372.88 L392.26,373.13 L393.01,373.36 L393.75,373.56 L394.50,373.75 L395.24,373.93 L395.98,374.08 L396.73,374.23 L397.47,374.36 L398.22,374.48 L398.96,374.58 L399.70,374.68 L400.45,374.77 L401.19,374.85 L401.94,374.92 L402.68,374.98 L403.42,375.04 L404.17,375.09 L404.91,375.14 L405.66,375.18 L406.40,375.22 L407.14,375.25 L407.89,375.28 L408.63,375.31 L409.38,375.34 L410.12,375.36 L410.86,375.38 L411.61,375.39 L412.35,375.41 L413.10,375.42 L413.84,375.43 L414.58,375.44 L415.33,375.45 L416.07,375.46 L416.82,375.47 L417.56,375.47 L418.30,375.48 L419.05,375.48 L419.79,375.49 L420.54,375.49 L421.28,375.49 L422.02,375.50 L422.77,375.50 L423.51,375.50 L424.26,375.50 L425.00,375.50 L425.74,375.51 L426.49,375.51 L427.23,375.51 L427.98,375.51 L428.72,375.51 L429.46,375.51 L430.21,375.51 L430.95,375.51 L431.70,375.51 L432.44,375.51 L433.18,375.51 L433.93,375.51 L434.67,375.51 L435.42,375.51 L436.16,375.51 L436.90,375.51 L437.65,375.51 L438.39,375.51 L439.14,375.51 L439.88,375.51 L440.62,375.51 L441.37,375.51 L442.11,375.51 L442.86,375.51 L443.60,375.51 L444.34,375.51 L445.09,375.51 L445.83,375.51 L446.58,375.51 L447.32,375.51 L448.06,375.51 L448.81,375.51 L449.55,375.51 L450.30,375.51 L451.04,375.51 L451.78,375.51 L452.53,375.51 L453.27,375.51 L454.02,375.51 L454.76,375.51 L455.50,375.51 L456.25,375.51 L456.99,375.51 L457.74,375.51 L458.48,375.51 L459.22,375.51 L459.97,375.51 L460.71,375.51 L461.46,375.51 L462.20,375.51 L462.94,375.51 L463.69,375.51 L464.43,375.51 L465.18,375.51 L465.92,375.51 L466.66,375.51 L467.41,375.51 L468.15,375.51 L468.90,375.51 L469.64,375.51 L470.38,375.51 L471.13,375.51 L471.87,375.51 L472.62,375.51 L473.36,375.51 L474.10,375.51 L474.85,375.51 L475.59,375.51 L476.34,375.51 L477.08,375.51 L477.82,375.51 L478.57,375.51 L479.31,375.51 L480.06,375.51 L480.80,375.51 L481.54,375.51 L482.29,375.51 L483.03,375.51 L483.78,375.51 L484.52,375.51 L485.26,375.51 L486.01,375.51 L486.75,375.51 L487.50,375.51 L488.24,375.51 L488.98,375.51 L489.73,375.51 L490.47,375.51 L491.22,375.51 L491.96,375.51 L492.70,375.51 L493.45,375.51 L494.19,375.51 L494.94,375.51 L495.68,375.51 L496.42,375.51 L497.17,375.51 L497.91,375.51 L498.66,375.51 L499.40,375.51 L500.14,375.51 L500.89,375.51 L501.63,375.51 L502.38,375.51 L503.12,375.51 L503.86,375.51 L504.61,375.51 L505.35,375.51 L506.10,375.51 L506.84,375.51 L507.58,375.51 L508.33,375.51 L509.07,375.51 L509.82,375.51 L510.56,375.51 L511.30,375.51 L512.05,375.51 L512.79,375.51 L513.54,375.51 L514.28,375.51 L515.02,375.51 L515.77,375.51 L516.51,375.51 L517.26,375.51 L518.00,375.51 L518.74,375.51 L519.49,375.51 L520.23,375.51 L520.98,375.51 L521.72,375.51 L522.46,375.51 L523.21,375.51 L523.95,375.51 L524.70,375.51 L525.44,375.51 L526.18,375.51 L526.93,375.51 L527.67,375.51 L528.42,375.51 L529.16,375.51" fill="none" stroke="#a08800" stroke-width="2.00" stroke-linejoin="round" stroke-linecap="round"/>
<path d="M82.76,375.51 L83.50,375.51 L84.25,375.51 L84.99,375.51 L85.74,375.51 L86.48,375.51 L87.22,375.51 L87.97,375.51 L88.71,375.51 L89.46,375.51 L90.20,375.51 L90.94,375.51 L91.69,375.51 L92.43,375.51 L93.18,375.51 L93.92,375.51 L94.66,375.51 L95.41,375.51 L96.15,375.51 L96.90,375.51 L97.64,375.51 L98.38,375.51 L99.13,375.51 L99.87,375.51 L100.62,375.51 L101.36,375.51 L102.10,375.51 L102.85,375.51 L103.59,375.51 L104.34,375.51 L105.08,375.51 L105.82,375.51 L106.57,375.51 L107.31,375.51 L108.06,375.51 L108.80,375.51 L109.54,375.51 L110.29,375.51 L111.03,375.51 L111.78,375.51 L112.52,375.51 L113.26,375.51 L114.01,375.51 L114.75,375.51 L115.50,375.51 L116.24,375.51 L116.98,375.51 L117.73,375.51 L118.47,375.51 L119.22,375.51 L119.96,375.51 L120.70,375.51 L121.45,375.51 L122.19,375.51 L122.94,375.51 L123.68,375.51 L124.42,375.51 L125.17,375.51 L125.91,375.51 L126.66,375.51 L127.40,375.51 L128.14,375.51 L128.89,375.51 L129.63,375.51 L130.38,375.51 L131.12,375.51 L131.86,375.51 L132.61,375.51 L133.35,375.51 L134.10,375.51 L134.84,375.51 L135.58,375.51 L136.33,375.51 L137.07,375.51 L137.82,375.51 L138.56,375.51 L139.30,375.51 L140.05,375.51 L140.79,375.51 L141.54,375.51 L142.28,375.51 L143.02,375.51 L143.77,375.51 L144.51,375.51 L145.26,375.51 L146.00,375.51 L146.74,375.51 L147.49,375.51 L148.23,375.51 L148.98,375.51 L149.72,375.51 L150.46,375.51 L151.21,375.51 L151.95,375.51 L152.70,375.51 L153.44,375.51 L154.18,375.51 L154.93,375.51 L155.67,375.51 L156.42,375.51 L157.16,375.51 L157.90,375.51 L158.65,375.51 L159.39,375.51 L160.14,375.51 L160.88,375.51 L161.62,375.51 L162.37,375.51 L163.11,375.51 L163.86,375.51 L164.60,375.51 L165.34,375.51 L166.09,375.51 L166.83,375.51 L167.58,375.51 L168.32,375.51 L169.06,375.51 L169.81,375.51 L170.55,375.51 L171.30,375.51 L172.04,375.51 L172.78,375.51 L173.53,375.51 L174.27,375.51 L175.02,375.51 L175.76,375.51 L176.50,375.51 L177.25,375.51 L177.99,375.51 L178.74,375.51 L179.48,375.51 L180.22,375.51 L180.97,375.51 L181.71,375.51 L182.46,375.51 L183.20,375.51 L183.94,375.51 L184.69,375.51 L185.43,375.51 L186.18,375.51 L186.92,375.51 L187.66,375.51 L188.41,375.51 L189.15,375.51 L189.90,375.51 L190.64,375.51 L191.38,375.51 L192.13,375.51 L192.87,375.51 L193.62,375.51 L194.36,375.51 L195.10,375.51 L195.85,375.51 L196.59,375.51 L197.34,375.51 L198.08,375.51 L198.82,375.51 L199.57,375.51 L200.31,375.51 L201.06,375.51 L201.80,375.51 L202.54,375.51 L203.29,375.51 L204.03,375.51 L204.78,375.51 L205.52,375.51 L206.26,375.51 L207.01,375.51 L207.75,375.51 L208.50,375.51 L209.24,375.51 L209.98,375.51 L210.73,375.51 L211.47,375.51 L212.22,375.51 L212.96,375.51 L213.70,375.51 L214.45,375.51 L215.19,375.51 L215.94,375.51 L216.68,375.51 L217.42,375.51 L218.17,375.51 L218.91,375.51 L219.66,375.51 L220.40,375.51 L221.14,375.51 L221.89,375.51 L222.63,375.51 L223.38,375.51 L224.12,375.51 L224.86,375.51 L225.61,375.51 L226.35,375.51 L227.10,375.51 L227.84,375.51 L228.58,375.51 L229.33,375.51 L230.07,375.51 L230.82,375.51 L231.56,375.51 L232.30,375.51 L233.05,375.51 L233.79,375.51 L234.54,375.51 L235.28,375.51 L236.02,375.51 L236.77,375.51 L237.51,375.51 L238.26,375.51 L239.00,375.51 L239.74,375.51 L240.49,375.51 L241.23,375.51 L241.98,375.51 L242.72,375.51 L243.46,375.51 L244.21,375.51 L244.95,375.51 L245.70,375.51 L246.44,375.51 L247.18,375.51 L247.93,375.51 L248.67,375.51 L249.42,375.51 L250.16,375.51 L250.90,375.51 L251.65,375.51 L252.39,375.51 L253.14,375.51 L253.88,375.51 L254.62,375.51 L255.37,375.51 L256.11,375.51 L256.86,375.51 L257.60,375.51 L258.34,375.51 L259.09,375.51 L259.83,375.51 L260.58,375.51 L261.32,375.51 L262.06,375.51 L262.81,375.51 L263.55,375.51 L264.30,375.51 L265.04,375.51 L265.78,375.51 L266.53,375.51 L267.27,375.51 L268.02,375.51 L268.76,375.51 L269.50,375.51 L270.25,375.51 L270.99,375.51 L271.74,375.51 L272.48,375.51 L273.22,375.51 L273.97,375.51 L274.71,375.51 L275.46,375.51 L276.20,375.51 L276.94,375.51 L277.69,375.51 L278.43,375.51 L279.18,375.51 L279.92,375.51 L280.66,375.51 L281.41,375.51 L282.15,375.51 L282.90,375.51 L283.64,375.51 L284.38,375.51 L285.13,375.51 L285.87,375.51 L286.62,375.51 L287.36,375.51 L288.10,375.51 L288.85,375.51 L289.59,375.51 L290.34,375.51 L291.08,375.51 L291.82,375.51 L292.57,375.51 L293.31,375.51 L294.06,375.51 L294.80,375.51 L295.54,375.51 L296.29,375.51 L297.03,375.51 L297.78,375.51 L298.52,375.51 L299.26,375.51 L300.01,375.51 L300.75,375.51 L301.50,375.51 L302.24,375.51 L302.98,375.51 L303.73,375.51 L304.47,375.51 L305.22,375.51 L305.96,375.51 L306.70,375.51 L307.45,375.51 L308.19,375.51 L308.94,375.51 L309.68,375.51 L310.42,375.51 L311.17,375.51 L311.91,375.51 L312.66,375.50 L313.40,375.50 L314.14,375.50 L314.89,375.50 L315.63,375.50 L316.38,375.49 L317.12,375.49 L317.86,375.49 L318.61,375.48 L319.35,375.48 L320.10,375.48 L320.84,375.47 L321.58,375.47 L322.33,375.46 L323.07,375.45 L323.82,375.44 L324.56,375.44 L325.30,375.43 L326.05,375.41 L326.79,375.40 L327.54,375.39 L328.28,375.37 L329.02,375.36 L329.77,375.34 L330.51,375.32 L331.26,375.29 L332.00,375.27 L332.74,375.24 L333.49,375.21 L334.23,375.18 L334.98,375.14 L335.72,375.10 L336.46,375.05 L337.21,375.00 L337.95,374.95 L338.70,374.89 L339.44,374.83 L340.18,374.76 L340.93,374.68 L341.67,374.60 L342.42,374.51 L343.16,374.41 L343.90,374.31 L344.65,374.19 L345.39,374.07 L346.14,373.93 L346.88,373.79 L347.62,373.63 L348.37,373.46 L349.11,373.28 L349.86,373.09 L350.60,372.88 L351.34,372.66 L352.09,372.42 L352.83,372.17 L353.58,371.90 L354.32,371.61 L355.06,371.30 L355.81,370.98 L356.55,370.63 L357.30,370.26 L358.04,369.87 L358.78,369.46 L359.53,369.03 L360.27,368.57 L361.02,368.09 L361.76,367.58 L362.50,367.04 L363.25,366.48 L363.99,365.90 L364.74,365.28 L365.48,364.64 L366.22,363.97 L366.97,363.27 L367.71,362.55 L368.46,361.79 L369.20,361.01 L369.94,360.20 L370.69,359.36 L371.43,358.49 L372.18,357.60 L372.92,356.68 L373.66,355.73 L374.41,354.75 L375.15,353.75 L375.90,352.73 L376.64,351.69 L377.38,350.62 L378.13,349.54 L378.87,348.43 L379.62,347.31 L380.36,346.17 L381.10,345.02 L381.85,343.86 L382.59,342.69 L383.34,341.51 L384.08,340.33 L384.82,339.14 L385.57,337.96 L386.31,336.78 L387.06,335.60 L387.80,334.43 L388.54,333.27 L389.29,332.13 L390.03,331.00 L390.78,329.89 L391.52,328.80 L392.26,327.74 L393.01,326.71 L393.75,325.70 L394.50,324.73 L395.24,323.80 L395.98,322.91 L396.73,322.05 L397.47,321.24 L398.22,320.48 L398.96,319.77 L399.70,319.10 L400.45,318.49 L401.19,317.94 L401.94,317.44 L402.68,317.00 L403.42,316.62 L404.17,316.30 L404.91,316.04 L405.66,315.84 L406.40,315.71 L407.14,315.64 L407.89,315.63 L408.63,315.69 L409.38,315.81 L410.12,315.99 L410.86,316.24 L411.61,316.55 L412.35,316.92 L413.10,317.35 L413.84,317.83 L414.58,318.38 L415.33,318.98 L416.07,319.63 L416.82,320.33 L417.56,321.09 L418.30,321.89 L419.05,322.73 L419.79,323.62 L420.54,324.54 L421.28,325.51 L422.02,326.50 L422.77,327.53 L423.51,328.59 L424.26,329.67 L425.00,330.77 L425.74,331.90 L426.49,333.04 L427.23,334.20 L427.98,335.36 L428.72,336.54 L429.46,337.72 L430.21,338.91 L430.95,340.09 L431.70,341.27 L432.44,342.45 L433.18,343.63 L433.93,344.79 L434.67,345.94 L435.42,347.08 L436.16,348.21 L436.90,349.32 L437.65,350.41 L438.39,351.48 L439.14,352.53 L439.88,353.55 L440.62,354.56 L441.37,355.53 L442.11,356.49 L442.86,357.41 L443.60,358.32 L444.34,359.19 L445.09,360.03 L445.83,360.85 L446.58,361.64 L447.32,362.40 L448.06,363.13 L448.81,363.83 L449.55,364.51 L450.30,365.16 L451.04,365.78 L451.78,366.37 L452.53,366.93 L453.27,367.47 L454.02,367.99 L454.76,368.47 L455.50,368.94 L456.25,369.38 L456.99,369.79 L457.74,370.19 L458.48,370.56 L459.22,370.91 L459.97,371.24 L460.71,371.55 L461.46,371.84 L462.20,372.12 L462.94,372.37 L463.69,372.61 L464.43,372.84 L465.18,373.05 L465.92,373.25 L466.66,373.43 L467.41,373.60 L468.15,373.76 L468.90,373.90 L469.64,374.04 L470.38,374.17 L471.13,374.28 L471.87,374.39 L472.62,374.49 L473.36,374.58 L474.10,374.67 L474.85,374.74 L475.59,374.81 L476.34,374.88 L477.08,374.94 L477.82,374.99 L478.57,375.04 L479.31,375.09 L480.06,375.13 L480.80,375.17 L481.54,375.20 L482.29,375.24 L483.03,375.26 L483.78,375.29 L484.52,375.31 L485.26,375.33 L486.01,375.35 L486.75,375.37 L487.50,375.39 L488.24,375.40 L488.98,375.41 L489.73,375.42 L490.47,375.43 L491.22,375.44 L491.96,375.45 L492.70,375.46 L493.45,375.46 L494.19,375.47 L494.94,375.48 L495.68,375.48 L496.42,375.48 L497.17,375.49 L497.91,375.49 L498.66,375.49 L499.40,375.50 L500.14,375.50 L500.89,375.50 L501.63,375.50 L502.38,375.50 L503.12,375.51 L503.86,375.51 L504.61,375.51 L505.35,375.51 L506.10,375.51 L506.84,375.51 L507.58,375.51 L508.33,375.51 L509.07,375.51 L509.82,375.51 L510.56,375.51 L511.30,375.51 L512.05,375.51 L512.79,375.51 L513.54,375.51 L514.28,375.51 L515.02,375.51 L515.77,375.51 L516.51,375.51 L517.26,375.51 L518.00,375.51 L518.74,375.51 L519.49,375.51 L520.23,375.51 L520.98,375.51 L521.72,375.51 L522.46,375.51 L523.21,375.51 L523.95,375.51 L524.70,375.51 L525.44,375.51 L526.18,375.51 L526.93,375.51 L527.67,375.51 L528.42,375.51 L529.16,375.51" fill="none" stroke="#c44400" stroke-width="2.00" stroke-linejoin="round" stroke-linecap="round"/>
<path d="M82.76,375.51 L82.91,375.51 L83.06,375.51 L83.21,375.51 L83.36,375.51 L83.50,375.51 L83.65,375.51 L83.80,375.51 L83.95,375.51 L84.10,375.51 L84.25,375.51 L84.40,375.51 L84.55,375.51 L84.69,375.51 L84.84,375.51 L84.99,375.51 L85.14,375.51 L85.29,375.51 L85.44,375.51 L85.59,375.51 L85.74,375.50 L85.88,375.50 L86.03,375.50 L86.18,375.50 L86.33,375.50 L86.48,375.50 L86.63,375.50 L86.78,375.50 L86.93,375.50 L87.08,375.50 L87.22,375.50 L87.37,375.50 L87.52,375.50 L87.67,375.50 L87.82,375.50 L87.97,375.50 L88.12,375.50 L88.27,375.50 L88.41,375.49 L88.56,375.49 L88.71,375.49 L88.86,375.49 L89.01,375.49 L89.16,375.49 L89.31,375.49 L89.46,375.49 L89.60,375.49 L89.75,375.49 L89.90,375.49 L90.05,375.48 L90.20,375.48 L90.35,375.48 L90.50,375.48 L90.65,375.48 L90.80,375.48 L90.94,375.48 L91.09,375.47 L91.24,375.47 L91.39,375.47 L91.54,375.47 L91.69,375.47 L91.84,375.47 L91.99,375.47 L92.13,375.46 L92.28,375.46 L92.43,375.46 L92.58,375.46 L92.73,375.46 L92.88,375.45 L93.03,375.45 L93.18,375.45 L93.32,375.45 L93.47,375.44 L93.62,375.44 L93.77,375.44 L93.92,375.44 L94.07,375.43 L94.22,375.43 L94.37,375.43 L94.52,375.42 L94.66,375.42 L94.81,375.42 L94.96,375.41 L95.11,375.41 L95.26,375.41 L95.41,375.40 L95.56,375.40 L95.71,375.39 L95.85,375.39 L96.00,375.39 L96.15,375.38 L96.30,375.38 L96.45,375.37 L96.60,375.37 L96.75,375.36 L96.90,375.36 L97.04,375.35 L97.19,375.35 L97.34,375.34 L97.49,375.33 L97.64,375.33 L97.79,375.32 L97.94,375.32 L98.09,375.31 L98.24,375.30 L98.38,375.29 L98.53,375.29 L98.68,375.28 L98.83,375.27 L98.98,375.26 L99.13,375.26 L99.28,375.25 L99.43,375.24 L99.57,375.23 L99.72,375.22 L99.87,375.21 L100.02,375.20 L100.17,375.19 L100.32,375.18 L100.47,375.17 L100.62,375.16 L100.76,375.15 L100.91,375.14 L101.06,375.13 L101.21,375.11 L101.36,375.10 L101.51,375.09 L101.66,375.07 L101.81,375.06 L101.96,375.05 L102.10,375.03 L102.25,375.02 L102.40,375.00 L102.55,374.99 L102.70,374.97 L102.85,374.95 L103.00,374.94 L103.15,374.92 L103.29,374.90 L103.44,374.88 L103.59,374.86 L103.74,374.85 L103.89,374.83 L104.04,374.81 L104.19,374.78 L104.34,374.76 L104.48,374.74 L104.63,374.72 L104.78,374.70 L104.93,374.67 L105.08,374.65 L105.23,374.62 L105.38,374.60 L105.53,374.57 L105.68,374.54 L105.82,374.52 L105.97,374.49 L106.12,374.46 L106.27,374.43 L106.42,374.40 L106.57,374.37 L106.72,374.34 L106.87,374.30 L107.01,374.27 L107.16,374.24 L107.31,374.20 L107.46,374.17 L107.61,374.13 L107.76,374.09 L107.91,374.05 L108.06,374.01 L108.20,373.97 L108.35,373.93 L108.50,373.89 L108.65,373.85 L108.80,373.80 L108.95,373.76 L109.10,373.71 L109.25,373.67 L109.40,373.62 L109.54,373.57 L109.69,373.52 L109.84,373.47 L109.99,373.41 L110.14,373.36 L110.29,373.31 L110.44,373.25 L110.59,373.19 L110.73,373.14 L110.88,373.08 L111.03,373.02 L111.18,372.95 L111.33,372.89 L111.48,372.83 L111.63,372.76 L111.78,372.69 L111.92,372.62 L112.07,372.55 L112.22,372.48 L112.37,372.41 L112.52,372.34 L112.67,372.26 L112.82,372.18 L112.97,372.10 L113.12,372.02 L113.26,371.94 L113.41,371.86 L113.56,371.77 L113.71,371.69 L113.86,371.60 L114.01,371.51 L114.16,371.42 L114.31,371.32 L114.45,371.23 L114.60,371.13 L114.75,371.03 L114.90,370.93 L115.05,370.83 L115.20,370.73 L115.35,370.62 L115.50,370.52 L115.64,370.41 L115.79,370.30 L115.94,370.18 L116.09,370.07 L116.24,369.95 L116.39,369.83 L116.54,369.71 L116.69,369.59 L116.84,369.46 L116.98,369.34 L117.13,369.21 L117.28,369.08 L117.43,368.94 L117.58,368.81 L117.73,368.67 L117.88,368.53 L118.03,368.39 L118.17,368.25 L118.32,368.10 L118.47,367.95 L118.62,367.80 L118.77,367.65 L118.92,367.49 L119.07,367.34 L119.22,367.18 L119.36,367.02 L119.51,366.85 L119.66,366.68 L119.81,366.52 L119.96,366.34 L120.11,366.17 L120.26,366.00 L120.41,365.82 L120.56,365.64 L120.70,365.45 L120.85,365.27 L121.00,365.08 L121.15,364.89 L121.30,364.70 L121.45,364.50 L121.60,364.30 L121.75,364.10 L121.89,363.90 L122.04,363.70 L122.19,363.49 L122.34,363.28 L122.49,363.07 L122.64,362.85 L122.79,362.64 L122.94,362.42 L123.08,362.19 L123.23,361.97 L123.38,361.74 L123.53,361.51 L123.68,361.28 L123.83,361.05 L123.98,360.81 L124.13,360.57 L124.28,360.33 L124.42,360.08 L124.57,359.84 L124.72,359.59 L124.87,359.34 L125.02,359.08 L125.17,358.83 L125.32,358.57 L125.47,358.31 L125.61,358.04 L125.76,357.78 L125.91,357.51 L126.06,357.24 L126.21,356.97 L126.36,356.69 L126.51,356.41 L126.66,356.13 L126.80,355.85 L126.95,355.57 L127.10,355.28 L127.25,354.99 L127.40,354.70 L127.55,354.41 L127.70,354.12 L127.85,353.82 L128.00,353.52 L128.14,353.22 L128.29,352.92 L128.44,352.62 L128.59,352.31 L128.74,352.00 L128.89,351.69 L129.04,351.38 L129.19,351.07 L129.33,350.75 L129.48,350.44 L129.63,350.12 L129.78,349.80 L129.93,349.48 L130.08,349.15 L130.23,348.83 L130.38,348.51 L130.52,348.18 L130.67,347.85 L130.82,347.52 L130.97,347.19 L131.12,346.86 L131.27,346.52 L131.42,346.19 L131.57,345.86 L131.72,345.52 L131.86,345.18 L132.01,344.84 L132.16,344.51 L132.31,344.17 L132.46,343.83 L132.61,343.49 L132.76,343.14 L132.91,342.80 L133.05,342.46 L133.20,342.12 L133.35,341.78 L133.50,341.43 L133.65,341.09 L133.80,340.74 L133.95,340.40 L134.10,340.06 L134.24,339.71 L134.39,339.37 L134.54,339.03 L134.69,338.68 L134.84,338.34 L134.99,338.00 L135.14,337.66 L135.29,337.32 L135.44,336.98 L135.58,336.64 L135.73,336.30 L135.88,335.96 L136.03,335.62 L136.18,335.28 L136.33,334.95 L136.48,334.61 L136.63,334.28 L136.77,333.95 L136.92,333.62 L137.07,333.29 L137.22,332.96 L137.37,332.63 L137.52,332.31 L137.67,331.98 L137.82,331.66 L137.96,331.34 L138.11,331.03 L138.26,330.71 L138.41,330.40 L138.56,330.08 L138.71,329.77 L138.86,329.47 L139.01,329.16 L139.16,328.86 L139.30,328.56 L139.45,328.26 L139.60,327.97 L139.75,327.68 L139.90,327.39 L140.05,327.10 L140.20,326.82 L140.35,326.54 L140.49,326.26 L140.64,325.98 L140.79,325.71 L140.94,325.44 L141.09,325.18 L141.24,324.92 L141.39,324.66 L141.54,324.41 L141.68,324.15 L141.83,323.91 L141.98,323.66 L142.13,323.42 L142.28,323.19 L142.43,322.96 L142.58,322.73 L142.73,322.50 L142.88,322.28 L143.02,322.07 L143.17,321.86 L143.32,321.65 L143.47,321.44 L143.62,321.24 L143.77,321.05 L143.92,320.86 L144.07,320.67 L144.21,320.49 L144.36,320.32 L144.51,320.14 L144.66,319.98 L144.81,319.81 L144.96,319.65 L145.11,319.50 L145.26,319.35 L145.40,319.21 L145.55,319.07 L145.70,318.94 L145.85,318.81 L146.00,318.68 L146.15,318.56 L146.30,318.45 L146.45,318.34 L146.60,318.24 L146.74,318.14 L146.89,318.04 L147.04,317.95 L147.19,317.87 L147.34,317.79 L147.49,317.72 L147.64,317.65 L147.79,317.59 L147.93,317.53 L148.08,317.48 L148.23,317.43 L148.38,317.39 L148.53,317.35 L148.68,317.32 L148.83,317.29 L148.98,317.27 L149.12,317.26 L149.27,317.25 L149.42,317.24 L149.57,317.24 L149.72,317.25 L149.87,317.26 L150.02,317.27 L150.17,317.29 L150.32,317.32 L150.46,317.35 L150.61,317.39 L150.76,317.43 L150.91,317.48 L151.06,317.53 L151.21,317.58 L151.36,317.64 L151.51,317.71 L151.65,317.78 L151.80,317.86 L151.95,317.94 L152.10,318.03 L152.25,318.12 L152.40,318.21 L152.55,318.31 L152.70,318.42 L152.84,318.53 L152.99,318.64 L153.14,318.76 L153.29,318.88 L153.44,319.01 L153.59,319.14 L153.74,319.28 L153.89,319.42 L154.04,319.57 L154.18,319.72 L154.33,319.87 L154.48,320.03 L154.63,320.19 L154.78,320.35 L154.93,320.52 L155.08,320.70 L155.23,320.87 L155.37,321.06 L155.52,321.24 L155.67,321.43 L155.82,321.62 L155.97,321.81 L156.12,322.01 L156.27,322.22 L156.42,322.42 L156.56,322.63 L156.71,322.84 L156.86,323.05 L157.01,323.27 L157.16,323.49 L157.31,323.71 L157.46,323.94 L157.61,324.17 L157.76,324.40 L157.90,324.63 L158.05,324.87 L158.20,325.11 L158.35,325.35 L158.50,325.59 L158.65,325.83 L158.80,326.08 L158.95,326.33 L159.09,326.58 L159.24,326.83 L159.39,327.09 L159.54,327.34 L159.69,327.60 L159.84,327.86 L159.99,328.12 L160.14,328.38 L160.28,328.64 L160.43,328.90 L160.58,329.17 L160.73,329.43 L160.88,329.70 L161.03,329.96 L161.18,330.23 L161.33,330.50 L161.48,330.77 L161.62,331.04 L161.77,331.31 L161.92,331.58 L162.07,331.85 L162.22,332.12 L162.37,332.39 L162.52,332.65 L162.67,332.92 L162.81,333.19 L162.96,333.46 L163.11,333.73 L163.26,334.00 L163.41,334.27 L163.56,334.53 L163.71,334.80 L163.86,335.06 L164.00,335.33 L164.15,335.59 L164.30,335.85 L164.45,336.12 L164.60,336.38 L164.75,336.63 L164.90,336.89 L165.05,337.15 L165.20,337.40 L165.34,337.66 L165.49,337.91 L165.64,338.16 L165.79,338.40 L165.94,338.65 L166.09,338.89 L166.24,339.14 L166.39,339.38 L166.53,339.61 L166.68,339.85 L166.83,340.08 L166.98,340.31 L167.13,340.54 L167.28,340.77 L167.43,340.99 L167.58,341.21 L167.72,341.43 L167.87,341.65 L168.02,341.86 L168.17,342.07 L168.32,342.28 L168.47,342.48 L168.62,342.68 L168.77,342.88 L168.92,343.08 L169.06,343.27 L169.21,343.46 L169.36,343.65 L169.51,343.83 L169.66,344.01 L169.81,344.18 L169.96,344.36 L170.11,344.52 L170.25,344.69 L170.40,344.85 L170.55,345.01 L170.70,345.17 L170.85,345.32 L171.00,345.46 L171.15,345.61 L171.30,345.75 L171.44,345.89 L171.59,346.02 L171.74,346.15 L171.89,346.27 L172.04,346.39 L172.19,346.51 L172.34,346.62 L172.49,346.73 L172.64,346.83 L172.78,346.94 L172.93,347.03 L173.08,347.12 L173.23,347.21 L173.38,347.30 L173.53,347.38 L173.68,347.45 L173.83,347.52 L173.97,347.59 L174.12,347.65 L174.27,347.71 L174.42,347.77 L174.57,347.82 L174.72,347.86 L174.87,347.91 L175.02,347.94 L175.16,347.98 L175.31,348.00 L175.46,348.03 L175.61,348.05 L175.76,348.06 L175.91,348.07 L176.06,348.08 L176.21,348.08 L176.36,348.08 L176.50,348.08 L176.65,348.06 L176.80,348.05 L176.95,348.03 L177.10,348.00 L177.25,347.98 L177.40,347.94 L177.55,347.91 L177.69,347.86 L177.84,347.82 L177.99,347.77 L178.14,347.71 L178.29,347.65 L178.44,347.59 L178.59,347.52 L178.74,347.45 L178.88,347.37 L179.03,347.29 L179.18,347.20 L179.33,347.11 L179.48,347.02 L179.63,346.92 L179.78,346.82 L179.93,346.71 L180.08,346.60 L180.22,346.48 L180.37,346.36 L180.52,346.24 L180.67,346.11 L180.82,345.98 L180.97,345.84 L181.12,345.70 L181.27,345.55 L181.41,345.41 L181.56,345.25 L181.71,345.09 L181.86,344.93 L182.01,344.77 L182.16,344.60 L182.31,344.42 L182.46,344.25 L182.60,344.06 L182.75,343.88 L182.90,343.69 L183.05,343.50 L183.20,343.30 L183.35,343.10 L183.50,342.89 L183.65,342.68 L183.80,342.47 L183.94,342.25 L184.09,342.03 L184.24,341.81 L184.39,341.58 L184.54,341.35 L184.69,341.12 L184.84,340.88 L184.99,340.63 L185.13,340.39 L185.28,340.14 L185.43,339.89 L185.58,339.63 L185.73,339.37 L185.88,339.11 L186.03,338.84 L186.18,338.57 L186.32,338.30 L186.47,338.02 L186.62,337.74 L186.77,337.46 L186.92,337.17 L187.07,336.88 L187.22,336.59 L187.37,336.29 L187.52,336.00 L187.66,335.69 L187.81,335.39 L187.96,335.08 L188.11,334.77 L188.26,334.46 L188.41,334.14 L188.56,333.82 L188.71,333.50 L188.85,333.17 L189.00,332.85 L189.15,332.52 L189.30,332.18 L189.45,331.85 L189.60,331.51 L189.75,331.17 L189.90,330.82 L190.04,330.48 L190.19,330.13 L190.34,329.78 L190.49,329.42 L190.64,329.07 L190.79,328.71 L190.94,328.35 L191.09,327.99 L191.24,327.62 L191.38,327.26 L191.53,326.89 L191.68,326.52 L191.83,326.14 L191.98,325.77 L192.13,325.39 L192.28,325.01 L192.43,324.63 L192.57,324.25 L192.72,323.86 L192.87,323.47 L193.02,323.09 L193.17,322.70 L193.32,322.30 L193.47,321.91 L193.62,321.52 L193.76,321.12 L193.91,320.72 L194.06,320.32 L194.21,319.92 L194.36,319.52 L194.51,319.11 L194.66,318.71 L194.81,318.30 L194.96,317.90 L195.10,317.49 L195.25,317.08 L195.40,316.67 L195.55,316.25 L195.70,315.84 L195.85,315.43 L196.00,315.01 L196.15,314.60 L196.29,314.18 L196.44,313.76 L196.59,313.34 L196.74,312.93 L196.89,312.51 L197.04,312.09 L197.19,311.67 L197.34,311.24 L197.48,310.82 L197.63,310.40 L197.78,309.98 L197.93,309.55 L198.08,309.13 L198.23,308.71 L198.38,308.28 L198.53,307.86 L198.68,307.44 L198.82,307.01 L198.97,306.59 L199.12,306.16 L199.27,305.74 L199.42,305.31 L199.57,304.89 L199.72,304.47 L199.87,304.04 L200.01,303.62 L200.16,303.20 L200.31,302.77 L200.46,302.35 L200.61,301.93 L200.76,301.51 L200.91,301.09 L201.06,300.67 L201.20,300.25 L201.35,299.83 L201.50,299.41 L201.65,298.99 L201.80,298.58 L201.95,298.16 L202.10,297.75 L202.25,297.33 L202.40,296.92 L202.54,296.51 L202.69,296.10 L202.84,295.69 L202.99,295.28 L203.14,294.88 L203.29,294.47 L203.44,294.07 L203.59,293.66 L203.73,293.26 L203.88,292.86 L204.03,292.46 L204.18,292.07 L204.33,291.67 L204.48,291.28 L204.63,290.88 L204.78,290.49 L204.92,290.11 L205.07,289.72 L205.22,289.33 L205.37,288.95 L205.52,288.57 L205.67,288.19 L205.82,287.81 L205.97,287.44 L206.12,287.07 L206.26,286.70 L206.41,286.33 L206.56,285.96 L206.71,285.60 L206.86,285.24 L207.01,284.88 L207.16,284.52 L207.31,284.17 L207.45,283.82 L207.60,283.47 L207.75,283.12 L207.90,282.78 L208.05,282.44 L208.20,282.10 L208.35,281.76 L208.50,281.43 L208.64,281.10 L208.79,280.77 L208.94,280.45 L209.09,280.13 L209.24,279.81 L209.39,279.50 L209.54,279.19 L209.69,278.88 L209.84,278.57 L209.98,278.27 L210.13,277.97 L210.28,277.67 L210.43,277.38 L210.58,277.09 L210.73,276.81 L210.88,276.53 L211.03,276.25 L211.17,275.97 L211.32,275.70 L211.47,275.43 L211.62,275.17 L211.77,274.91 L211.92,274.65 L212.07,274.39 L212.22,274.14 L212.36,273.90 L212.51,273.66 L212.66,273.42 L212.81,273.18 L212.96,272.95 L213.11,272.73 L213.26,272.50 L213.41,272.28 L213.56,272.07 L213.70,271.86 L213.85,271.65 L214.00,271.45 L214.15,271.25 L214.30,271.06 L214.45,270.87 L214.60,270.68 L214.75,270.50 L214.89,270.32 L215.04,270.15 L215.19,269.98 L215.34,269.81 L215.49,269.65 L215.64,269.49 L215.79,269.34 L215.94,269.19 L216.08,269.05 L216.23,268.91 L216.38,268.78 L216.53,268.65 L216.68,268.52 L216.83,268.40 L216.98,268.29 L217.13,268.17 L217.28,268.07 L217.42,267.96 L217.57,267.86 L217.72,267.77 L217.87,267.68 L218.02,267.60 L218.17,267.52 L218.32,267.44 L218.47,267.37 L218.61,267.30 L218.76,267.24 L218.91,267.19 L219.06,267.13 L219.21,267.09 L219.36,267.04 L219.51,267.01 L219.66,266.97 L219.80,266.94 L219.95,266.92 L220.10,266.90 L220.25,266.88 L220.40,266.87 L220.55,266.87 L220.70,266.87 L220.85,266.87 L221.00,266.88 L221.14,266.89 L221.29,266.91 L221.44,266.93 L221.59,266.96 L221.74,266.99 L221.89,267.03 L222.04,267.07 L222.19,267.12 L222.33,267.17 L222.48,267.22 L222.63,267.28 L222.78,267.35 L222.93,267.42 L223.08,267.49 L223.23,267.57 L223.38,267.65 L223.52,267.74 L223.67,267.83 L223.82,267.93 L223.97,268.03 L224.12,268.14 L224.27,268.25 L224.42,268.37 L224.57,268.48 L224.72,268.61 L224.86,268.74 L225.01,268.87 L225.16,269.01 L225.31,269.15 L225.46,269.30 L225.61,269.45 L225.76,269.60 L225.91,269.76 L226.05,269.92 L226.20,270.09 L226.35,270.26 L226.50,270.44 L226.65,270.62 L226.80,270.81 L226.95,271.00 L227.10,271.19 L227.24,271.39 L227.39,271.59 L227.54,271.79 L227.69,272.00 L227.84,272.22 L227.99,272.43 L228.14,272.66 L228.29,272.88 L228.44,273.11 L228.58,273.35 L228.73,273.58 L228.88,273.82 L229.03,274.07 L229.18,274.32 L229.33,274.57 L229.48,274.83 L229.63,275.09 L229.77,275.35 L229.92,275.62 L230.07,275.89 L230.22,276.16 L230.37,276.44 L230.52,276.72 L230.67,277.01 L230.82,277.29 L230.96,277.59 L231.11,277.88 L231.26,278.18 L231.41,278.48 L231.56,278.78 L231.71,279.09 L231.86,279.40 L232.01,279.72 L232.16,280.03 L232.30,280.35 L232.45,280.68 L232.60,281.00 L232.75,281.33 L232.90,281.67 L233.05,282.00 L233.20,282.34 L233.35,282.68 L233.49,283.02 L233.64,283.37 L233.79,283.72 L233.94,284.07 L234.09,284.42 L234.24,284.78 L234.39,285.14 L234.54,285.50 L234.68,285.86 L234.83,286.23 L234.98,286.59 L235.13,286.96 L235.28,287.34 L235.43,287.71 L235.58,288.09 L235.73,288.47 L235.88,288.85 L236.02,289.23 L236.17,289.62 L236.32,290.01 L236.47,290.39 L236.62,290.79 L236.77,291.18 L236.92,291.57 L237.07,291.97 L237.21,292.37 L237.36,292.77 L237.51,293.17 L237.66,293.57 L237.81,293.97 L237.96,294.38 L238.11,294.79 L238.26,295.19 L238.40,295.60 L238.55,296.01 L238.70,296.43 L238.85,296.84 L239.00,297.25 L239.15,297.67 L239.30,298.09 L239.45,298.50 L239.60,298.92 L239.74,299.34 L239.89,299.76 L240.04,300.18 L240.19,300.61 L240.34,301.03 L240.49,301.45 L240.64,301.88 L240.79,302.30 L240.93,302.73 L241.08,303.15 L241.23,303.58 L241.38,304.01 L241.53,304.43 L241.68,304.86 L241.83,305.29 L241.98,305.72 L242.12,306.15 L242.27,306.57 L242.42,307.00 L242.57,307.43 L242.72,307.86 L242.87,308.29 L243.02,308.72 L243.17,309.15 L243.32,309.58 L243.46,310.01 L243.61,310.44 L243.76,310.86 L243.91,311.29 L244.06,311.72 L244.21,312.15 L244.36,312.58 L244.51,313.00 L244.65,313.43 L244.80,313.86 L244.95,314.28 L245.10,314.71 L245.25,315.13 L245.40,315.56 L245.55,315.98 L245.70,316.40 L245.84,316.82 L245.99,317.25 L246.14,317.67 L246.29,318.09 L246.44,318.51 L246.59,318.92 L246.74,319.34 L246.89,319.76 L247.04,320.17 L247.18,320.59 L247.33,321.00 L247.48,321.41 L247.63,321.82 L247.78,322.23 L247.93,322.64 L248.08,323.05 L248.23,323.45 L248.37,323.86 L248.52,324.26 L248.67,324.66 L248.82,325.06 L248.97,325.46 L249.12,325.86 L249.27,326.25 L249.42,326.65 L249.56,327.04 L249.71,327.43 L249.86,327.82 L250.01,328.21 L250.16,328.59 L250.31,328.98 L250.46,329.36 L250.61,329.74 L250.76,330.12 L250.90,330.49 L251.05,330.87 L251.20,331.24 L251.35,331.61 L251.50,331.97 L251.65,332.34 L251.80,332.70 L251.95,333.05 L252.09,333.41 L252.24,333.76 L252.39,334.11 L252.54,334.45 L252.69,334.79 L252.84,335.12 L252.99,335.45 L253.14,335.78 L253.28,336.10 L253.43,336.41 L253.58,336.71 L253.73,337.01 L253.88,337.30 L254.03,337.59 L254.18,337.86 L254.33,338.12 L254.48,338.37 L254.62,338.61 L254.77,338.83 L254.92,339.04 L255.07,339.23 L255.22,339.41 L255.37,339.56 L255.52,339.69 L255.67,339.80 L255.81,339.88 L255.96,339.94 L256.11,339.96 L256.26,339.95 L256.41,339.91 L256.56,339.82 L256.71,339.69 L256.86,339.52 L257.00,339.29 L257.15,339.01 L257.30,338.68 L257.45,338.28 L257.60,337.81 L257.75,337.27 L257.90,336.65 L258.05,335.95 L258.20,335.16 L258.34,334.27 L258.49,333.29 L258.64,332.20 L258.79,330.99 L258.94,329.67 L259.09,328.22 L259.24,326.64 L259.39,324.92 L259.53,323.06 L259.68,321.05 L259.83,318.87 L259.98,316.54 L260.13,314.03 L260.28,311.34 L260.43,308.48 L260.58,305.43 L260.72,302.18 L260.87,298.74 L261.02,295.10 L261.17,291.26 L261.32,287.21 L261.47,282.95 L261.62,278.48 L261.77,273.80 L261.92,268.92 L262.06,263.82 L262.21,258.52 L262.36,253.02 L262.51,247.32 L262.66,241.44 L262.81,235.36 L262.96,229.11 L263.11,222.69 L263.25,216.12 L263.40,209.40 L263.55,202.55 L263.70,195.58 L263.85,188.50 L264.00,181.34 L264.15,174.12 L264.30,166.84 L264.44,159.53 L264.59,152.21 L264.74,144.90 L264.89,137.62 L265.04,130.40 L265.19,123.26 L265.34,116.22 L265.49,109.30 L265.64,102.54 L265.78,95.95 L265.93,89.56 L266.08,83.38 L266.23,77.46 L266.38,71.80 L266.53,66.43 L266.68,61.38 L266.83,56.65 L266.97,52.28 L267.12,48.27 L267.27,44.65 L267.42,41.43 L267.57,38.62 L267.72,36.24 L267.87,34.30 L268.02,32.80 L268.16,31.75 L268.31,31.16 L268.46,31.03 L268.61,31.35 L268.76,32.14 L268.91,33.38 L269.06,35.07 L269.21,37.20 L269.36,39.77 L269.50,42.76 L269.65,46.17 L269.80,49.97 L269.95,54.15 L270.10,58.70 L270.25,63.59 L270.40,68.81 L270.55,74.34 L270.69,80.15 L270.84,86.23 L270.99,92.55 L271.14,99.08 L271.29,105.80 L271.44,112.70 L271.59,119.74 L271.74,126.90 L271.88,134.16 L272.03,141.49 L272.18,148.87 L272.33,156.28 L272.48,163.69 L272.63,171.09 L272.78,178.46 L272.93,185.77 L273.08,193.01 L273.22,200.15 L273.37,207.19 L273.52,214.11 L273.67,220.89 L273.82,227.53 L273.97,234.00 L274.12,240.31 L274.27,246.43 L274.41,252.37 L274.56,258.12 L274.71,263.66 L274.86,269.01 L275.01,274.15 L275.16,279.07 L275.31,283.79 L275.46,288.30 L275.60,292.60 L275.75,296.69 L275.90,300.57 L276.05,304.25 L276.20,307.72 L276.35,311.01 L276.50,314.09 L276.65,317.00 L276.80,319.72 L276.94,322.26 L277.09,324.64 L277.24,326.85 L277.39,328.90 L277.54,330.80 L277.69,332.56 L277.84,334.18 L277.99,335.66 L278.13,337.02 L278.28,338.26 L278.43,339.39 L278.58,340.42 L278.73,341.34 L278.88,342.16 L279.03,342.90 L279.18,343.56 L279.32,344.14 L279.47,344.64 L279.62,345.08 L279.77,345.45 L279.92,345.76 L280.07,346.02 L280.22,346.23 L280.37,346.39 L280.52,346.50 L280.66,346.58 L280.81,346.62 L280.96,346.62 L281.11,346.59 L281.26,346.53 L281.41,346.45 L281.56,346.34 L281.71,346.20 L281.85,346.05 L282.00,345.87 L282.15,345.68 L282.30,345.47 L282.45,345.24 L282.60,345.01 L282.75,344.75 L282.90,344.49 L283.04,344.21 L283.19,343.92 L283.34,343.63 L283.49,343.32 L283.64,343.00 L283.79,342.68 L283.94,342.35 L284.09,342.01 L284.24,341.66 L284.38,341.31 L284.53,340.95 L284.68,340.58 L284.83,340.21 L284.98,339.83 L285.13,339.45 L285.28,339.06 L285.43,338.67 L285.57,338.27 L285.72,337.87 L285.87,337.46 L286.02,337.04 L286.17,336.62 L286.32,336.20 L286.47,335.77 L286.62,335.34 L286.76,334.90 L286.91,334.46 L287.06,334.01 L287.21,333.56 L287.36,333.10 L287.51,332.64 L287.66,332.18 L287.81,331.71 L287.96,331.24 L288.10,330.76 L288.25,330.28 L288.40,329.79 L288.55,329.30 L288.70,328.80 L288.85,328.30 L289.00,327.80 L289.15,327.29 L289.29,326.78 L289.44,326.26 L289.59,325.74 L289.74,325.21 L289.89,324.68 L290.04,324.15 L290.19,323.61 L290.34,323.06 L290.48,322.52 L290.63,321.97 L290.78,321.41 L290.93,320.85 L291.08,320.29 L291.23,319.72 L291.38,319.15 L291.53,318.57 L291.68,317.99 L291.82,317.41 L291.97,316.82 L292.12,316.23 L292.27,315.63 L292.42,315.03 L292.57,314.43 L292.72,313.82 L292.87,313.21 L293.01,312.59 L293.16,311.97 L293.31,311.35 L293.46,310.72 L293.61,310.09 L293.76,309.45 L293.91,308.82 L294.06,308.17 L294.20,307.53 L294.35,306.88 L294.50,306.22 L294.65,305.57 L294.80,304.91 L294.95,304.24 L295.10,303.58 L295.25,302.90 L295.40,302.23 L295.54,301.55 L295.69,300.87 L295.84,300.19 L295.99,299.50 L296.14,298.81 L296.29,298.12 L296.44,297.42 L296.59,296.72 L296.73,296.01 L296.88,295.31 L297.03,294.60 L297.18,293.89 L297.33,293.17 L297.48,292.45 L297.63,291.73 L297.78,291.01 L297.92,290.28 L298.07,289.55 L298.22,288.82 L298.37,288.09 L298.52,287.35 L298.67,286.61 L298.82,285.87 L298.97,285.13 L299.12,284.38 L299.26,283.63 L299.41,282.88 L299.56,282.13 L299.71,281.37 L299.86,280.61 L300.01,279.85 L300.16,279.09 L300.31,278.33 L300.45,277.57 L300.60,276.80 L300.75,276.03 L300.90,275.26 L301.05,274.49 L301.20,273.71 L301.35,272.94 L301.50,272.16 L301.64,271.39 L301.79,270.61 L301.94,269.83 L302.09,269.05 L302.24,268.26 L302.39,267.48 L302.54,266.70 L302.69,265.91 L302.84,265.12 L302.98,264.34 L303.13,263.55 L303.28,262.76 L303.43,261.97 L303.58,261.18 L303.73,260.39 L303.88,259.60 L304.03,258.81 L304.17,258.02 L304.32,257.23 L304.47,256.44 L304.62,255.65 L304.77,254.86 L304.92,254.07 L305.07,253.28 L305.22,252.49 L305.36,251.70 L305.51,250.91 L305.66,250.12 L305.81,249.33 L305.96,248.54 L306.11,247.76 L306.26,246.97 L306.41,246.19 L306.56,245.40 L306.70,244.62 L306.85,243.84 L307.00,243.06 L307.15,242.28 L307.30,241.50 L307.45,240.72 L307.60,239.95 L307.75,239.18 L307.89,238.40 L308.04,237.64 L308.19,236.87 L308.34,236.10 L308.49,235.34 L308.64,234.58 L308.79,233.82 L308.94,233.06 L309.08,232.30 L309.23,231.55 L309.38,230.80 L309.53,230.05 L309.68,229.31 L309.83,228.57 L309.98,227.83 L310.13,227.09 L310.28,226.36 L310.42,225.63 L310.57,224.90 L310.72,224.18 L310.87,223.46 L311.02,222.74 L311.17,222.03 L311.32,221.32 L311.47,220.61 L311.61,219.91 L311.76,219.21 L311.91,218.52 L312.06,217.83 L312.21,217.14 L312.36,216.46 L312.51,215.78 L312.66,215.10 L312.80,214.43 L312.95,213.77 L313.10,213.11 L313.25,212.45 L313.40,211.80 L313.55,211.16 L313.70,210.51 L313.85,209.88 L314.00,209.25 L314.14,208.62 L314.29,208.00 L314.44,207.38 L314.59,206.77 L314.74,206.16 L314.89,205.56 L315.04,204.97 L315.19,204.38 L315.33,203.80 L315.48,203.22 L315.63,202.65 L315.78,202.08 L315.93,201.52 L316.08,200.97 L316.23,200.42 L316.38,199.88 L316.52,199.35 L316.67,198.82 L316.82,198.29 L316.97,197.78 L317.12,197.27 L317.27,196.77 L317.42,196.27 L317.57,195.78 L317.72,195.30 L317.86,194.82 L318.01,194.35 L318.16,193.89 L318.31,193.43 L318.46,192.99 L318.61,192.54 L318.76,192.11 L318.91,191.68 L319.05,191.26 L319.20,190.85 L319.35,190.45 L319.50,190.05 L319.65,189.66 L319.80,189.28 L319.95,188.90 L320.10,188.54 L320.24,188.18 L320.39,187.83 L320.54,187.48 L320.69,187.15 L320.84,186.82 L320.99,186.50 L321.14,186.19 L321.29,185.88 L321.44,185.59 L321.58,185.30 L321.73,185.02 L321.88,184.75 L322.03,184.48 L322.18,184.23 L322.33,183.98 L322.48,183.74 L322.63,183.51 L322.77,183.29 L322.92,183.08 L323.07,182.87 L323.22,182.67 L323.37,182.49 L323.52,182.31 L323.67,182.14 L323.82,181.97 L323.96,181.82 L324.11,181.67 L324.26,181.54 L324.41,181.41 L324.56,181.29 L324.71,181.18 L324.86,181.07 L325.01,180.98 L325.16,180.89 L325.30,180.82 L325.45,180.75 L325.60,180.69 L325.75,180.64 L325.90,180.60 L326.05,180.57 L326.20,180.54 L326.35,180.53 L326.49,180.52 L326.64,180.52 L326.79,180.53 L326.94,180.55 L327.09,180.58 L327.24,180.62 L327.39,180.66 L327.54,180.72 L327.68,180.78 L327.83,180.85 L327.98,180.93 L328.13,181.02 L328.28,181.12 L328.43,181.22 L328.58,181.34 L328.73,181.46 L328.88,181.59 L329.02,181.73 L329.17,181.88 L329.32,182.04 L329.47,182.21 L329.62,182.38 L329.77,182.56 L329.92,182.76 L330.07,182.96 L330.21,183.16 L330.36,183.38 L330.51,183.61 L330.66,183.84 L330.81,184.08 L330.96,184.33 L331.11,184.59 L331.26,184.85 L331.40,185.13 L331.55,185.41 L331.70,185.70 L331.85,186.00 L332.00,186.30 L332.15,186.62 L332.30,186.94 L332.45,187.27 L332.60,187.61 L332.74,187.95 L332.89,188.30 L333.04,188.66 L333.19,189.03 L333.34,189.41 L333.49,189.79 L333.64,190.18 L333.79,190.58 L333.93,190.98 L334.08,191.39 L334.23,191.81 L334.38,192.24 L334.53,192.67 L334.68,193.11 L334.83,193.56 L334.98,194.01 L335.12,194.47 L335.27,194.94 L335.42,195.42 L335.57,195.90 L335.72,196.38 L335.87,196.88 L336.02,197.38 L336.17,197.89 L336.32,198.40 L336.46,198.92 L336.61,199.44 L336.76,199.98 L336.91,200.51 L337.06,201.06 L337.21,201.61 L337.36,202.16 L337.51,202.72 L337.65,203.29 L337.80,203.86 L337.95,204.44 L338.10,205.02 L338.25,205.61 L338.40,206.21 L338.55,206.80 L338.70,207.41 L338.84,208.02 L338.99,208.63 L339.14,209.25 L339.29,209.88 L339.44,210.50 L339.59,211.14 L339.74,211.78 L339.89,212.42 L340.04,213.06 L340.18,213.72 L340.33,214.37 L340.48,215.03 L340.63,215.69 L340.78,216.36 L340.93,217.03 L341.08,217.71 L341.23,218.39 L341.37,219.07 L341.52,219.76 L341.67,220.45 L341.82,221.14 L341.97,221.84 L342.12,222.54 L342.27,223.24 L342.42,223.94 L342.56,224.65 L342.71,225.36 L342.86,226.08 L343.01,226.80 L343.16,227.52 L343.31,228.24 L343.46,228.96 L343.61,229.69 L343.76,230.42 L343.90,231.15 L344.05,231.89 L344.20,232.62 L344.35,233.36 L344.50,234.10 L344.65,234.84 L344.80,235.58 L344.95,236.33 L345.09,237.08 L345.24,237.82 L345.39,238.57 L345.54,239.32 L345.69,240.07 L345.84,240.83 L345.99,241.58 L346.14,242.34 L346.28,243.09 L346.43,243.85 L346.58,244.60 L346.73,245.36 L346.88,246.12 L347.03,246.88 L347.18,247.64 L347.33,248.40 L347.48,249.16 L347.62,249.92 L347.77,250.68 L347.92,251.43 L348.07,252.19 L348.22,252.95 L348.37,253.71 L348.52,254.47 L348.67,255.23 L348.81,255.99 L348.96,256.74 L349.11,257.50 L349.26,258.26 L349.41,259.01 L349.56,259.76 L349.71,260.52 L349.86,261.27 L350.00,262.02 L350.15,262.77 L350.30,263.52 L350.45,264.26 L350.60,265.01 L350.75,265.75 L350.90,266.50 L351.05,267.24 L351.20,267.98 L351.34,268.71 L351.49,269.45 L351.64,270.18 L351.79,270.91 L351.94,271.64 L352.09,272.37 L352.24,273.10 L352.39,273.82 L352.53,274.54 L352.68,275.26 L352.83,275.98 L352.98,276.69 L353.13,277.40 L353.28,278.11 L353.43,278.81 L353.58,279.52 L353.72,280.22 L353.87,280.92 L354.02,281.61 L354.17,282.30 L354.32,282.99 L354.47,283.68 L354.62,284.36 L354.77,285.04 L354.92,285.72 L355.06,286.39 L355.21,287.06 L355.36,287.73 L355.51,288.39 L355.66,289.05 L355.81,289.70 L355.96,290.36 L356.11,291.01 L356.25,291.65 L356.40,292.29 L356.55,292.93 L356.70,293.57 L356.85,294.20 L357.00,294.82 L357.15,295.44 L357.30,296.06 L357.44,296.68 L357.59,297.29 L357.74,297.90 L357.89,298.50 L358.04,299.10 L358.19,299.69 L358.34,300.28 L358.49,300.87 L358.64,301.45 L358.78,302.02 L358.93,302.60 L359.08,303.17 L359.23,303.73 L359.38,304.29 L359.53,304.84 L359.68,305.40 L359.83,305.94 L359.97,306.48 L360.12,307.02 L360.27,307.55 L360.42,308.08 L360.57,308.60 L360.72,309.12 L360.87,309.64 L361.02,310.15 L361.16,310.65 L361.31,311.15 L361.46,311.64 L361.61,312.13 L361.76,312.62 L361.91,313.10 L362.06,313.58 L362.21,314.05 L362.36,314.51 L362.50,314.97 L362.65,315.43 L362.80,315.88 L362.95,316.33 L363.10,316.77 L363.25,317.21 L363.40,317.64 L363.55,318.06 L363.69,318.48 L363.84,318.90 L363.99,319.31 L364.14,319.72 L364.29,320.12 L364.44,320.52 L364.59,320.91 L364.74,321.30 L364.88,321.68 L365.03,322.05 L365.18,322.43 L365.33,322.79 L365.48,323.15 L365.63,323.51 L365.78,323.86 L365.93,324.21 L366.08,324.55 L366.22,324.88 L366.37,325.22 L366.52,325.54 L366.67,325.86 L366.82,326.18 L366.97,326.49 L367.12,326.80 L367.27,327.10 L367.41,327.39 L367.56,327.68 L367.71,327.97 L367.86,328.25 L368.01,328.53 L368.16,328.80 L368.31,329.07 L368.46,329.33 L368.60,329.58 L368.75,329.83 L368.90,330.08 L369.05,330.32 L369.20,330.56 L369.35,330.79 L369.50,331.02 L369.65,331.24 L369.80,331.46 L369.94,331.67 L370.09,331.88 L370.24,332.08 L370.39,332.28 L370.54,332.48 L370.69,332.66 L370.84,332.85 L370.99,333.03 L371.13,333.20 L371.28,333.37 L371.43,333.54 L371.58,333.70 L371.73,333.86 L371.88,334.01 L372.03,334.16 L372.18,334.30 L372.32,334.44 L372.47,334.57 L372.62,334.70 L372.77,334.83 L372.92,334.95 L373.07,335.06 L373.22,335.18 L373.37,335.28 L373.52,335.39 L373.66,335.49 L373.81,335.58 L373.96,335.67 L374.11,335.76 L374.26,335.84 L374.41,335.92 L374.56,335.99 L374.71,336.06 L374.85,336.13 L375.00,336.19 L375.15,336.25 L375.30,336.30 L375.45,336.35 L375.60,336.40 L375.75,336.44 L375.90,336.48 L376.04,336.51 L376.19,336.54 L376.34,336.57 L376.49,336.59 L376.64,336.61 L376.79,336.63 L376.94,336.64 L377.09,336.65 L377.24,336.66 L377.38,336.66 L377.53,336.66 L377.68,336.65 L377.83,336.64 L377.98,336.63 L378.13,336.61 L378.28,336.60 L378.43,336.57 L378.57,336.55 L378.72,336.52 L378.87,336.49 L379.02,336.45 L379.17,336.42 L379.32,336.37 L379.47,336.33 L379.62,336.28 L379.76,336.23 L379.91,336.18 L380.06,336.12 L380.21,336.07 L380.36,336.00 L380.51,335.94 L380.66,335.87 L380.81,335.80 L380.96,335.73 L381.10,335.66 L381.25,335.58 L381.40,335.50 L381.55,335.42 L381.70,335.33 L381.85,335.24 L382.00,335.15 L382.15,335.06 L382.29,334.97 L382.44,334.87 L382.59,334.77 L382.74,334.67 L382.89,334.56 L383.04,334.46 L383.19,334.35 L383.34,334.24 L383.48,334.13 L383.63,334.01 L383.78,333.90 L383.93,333.78 L384.08,333.66 L384.23,333.54 L384.38,333.42 L384.53,333.29 L384.68,333.16 L384.82,333.04 L384.97,332.91 L385.12,332.77 L385.27,332.64 L385.42,332.51 L385.57,332.37 L385.72,332.23 L385.87,332.09 L386.01,331.95 L386.16,331.81 L386.31,331.67 L386.46,331.53 L386.61,331.38 L386.76,331.23 L386.91,331.09 L387.06,330.94 L387.20,330.79 L387.35,330.64 L387.50,330.49 L387.65,330.33 L387.80,330.18 L387.95,330.02 L388.10,329.87 L388.25,329.71 L388.40,329.56 L388.54,329.40 L388.69,329.24 L388.84,329.08 L388.99,328.92 L389.14,328.76 L389.29,328.60 L389.44,328.44 L389.59,328.28 L389.73,328.12 L389.88,327.96 L390.03,327.80 L390.18,327.64 L390.33,327.47 L390.48,327.31 L390.63,327.15 L390.78,326.98 L390.92,326.82 L391.07,326.66 L391.22,326.49 L391.37,326.33 L391.52,326.17 L391.67,326.01 L391.82,325.84 L391.97,325.68 L392.12,325.52 L392.26,325.35 L392.41,325.19 L392.56,325.03 L392.71,324.87 L392.86,324.71 L393.01,324.55 L393.16,324.39 L393.31,324.23 L393.45,324.07 L393.60,323.91 L393.75,323.75 L393.90,323.60 L394.05,323.44 L394.20,323.28 L394.35,323.13 L394.50,322.97 L394.64,322.82 L394.79,322.67 L394.94,322.51 L395.09,322.36 L395.24,322.21 L395.39,322.06 L395.54,321.92 L395.69,321.77 L395.84,321.62 L395.98,321.48 L396.13,321.33 L396.28,321.19 L396.43,321.05 L396.58,320.91 L396.73,320.77 L396.88,320.63 L397.03,320.49 L397.17,320.36 L397.32,320.22 L397.47,320.09 L397.62,319.96 L397.77,319.83 L397.92,319.70 L398.07,319.57 L398.22,319.44 L398.36,319.32 L398.51,319.20 L398.66,319.08 L398.81,318.96 L398.96,318.84 L399.11,318.72 L399.26,318.61 L399.41,318.49 L399.56,318.38 L399.70,318.27 L399.85,318.16 L400.00,318.06 L400.15,317.95 L400.30,317.85 L400.45,317.75 L400.60,317.65 L400.75,317.55 L400.89,317.46 L401.04,317.36 L401.19,317.27 L401.34,317.18 L401.49,317.10 L401.64,317.01 L401.79,316.93 L401.94,316.85 L402.08,316.77 L402.23,316.69 L402.38,316.61 L402.53,316.54 L402.68,316.47 L402.83,316.40 L402.98,316.33 L403.13,316.27 L403.28,316.21 L403.42,316.15 L403.57,316.09 L403.72,316.03 L403.87,315.98 L404.02,315.93 L404.17,315.88 L404.32,315.83 L404.47,315.79 L404.61,315.74 L404.76,315.70 L404.91,315.66 L405.06,315.63 L405.21,315.60 L405.36,315.57 L405.51,315.54 L405.66,315.51 L405.80,315.49 L405.95,315.46 L406.10,315.45 L406.25,315.43 L406.40,315.41 L406.55,315.40 L406.70,315.39 L406.85,315.38 L407.00,315.38 L407.14,315.38 L407.29,315.38 L407.44,315.38 L407.59,315.38 L407.74,315.39 L407.89,315.40 L408.04,315.41 L408.19,315.43 L408.33,315.44 L408.48,315.46 L408.63,315.49 L408.78,315.51 L408.93,315.54 L409.08,315.56 L409.23,315.60 L409.38,315.63 L409.52,315.67 L409.67,315.70 L409.82,315.75 L409.97,315.79 L410.12,315.84 L410.27,315.88 L410.42,315.93 L410.57,315.99 L410.72,316.04 L410.86,316.10 L411.01,316.16 L411.16,316.22 L411.31,316.29 L411.46,316.36 L411.61,316.43 L411.76,316.50 L411.91,316.57 L412.05,316.65 L412.20,316.73 L412.35,316.81 L412.50,316.89 L412.65,316.98 L412.80,317.07 L412.95,317.16 L413.10,317.25 L413.24,317.35 L413.39,317.45 L413.54,317.55 L413.69,317.65 L413.84,317.75 L413.99,317.86 L414.14,317.97 L414.29,318.08 L414.44,318.19 L414.58,318.31 L414.73,318.42 L414.88,318.54 L415.03,318.67 L415.18,318.79 L415.33,318.91 L415.48,319.04 L415.63,319.17 L415.77,319.31 L415.92,319.44 L416.07,319.58 L416.22,319.71 L416.37,319.85 L416.52,320.00 L416.67,320.14 L416.82,320.29 L416.96,320.43 L417.11,320.58 L417.26,320.74 L417.41,320.89 L417.56,321.05 L417.71,321.20 L417.86,321.36 L418.01,321.52 L418.16,321.69 L418.30,321.85 L418.45,322.02 L418.60,322.19 L418.75,322.36 L418.90,322.53 L419.05,322.70 L419.20,322.88 L419.35,323.05 L419.49,323.23 L419.64,323.41 L419.79,323.59 L419.94,323.77 L420.09,323.96 L420.24,324.14 L420.39,324.33 L420.54,324.52 L420.68,324.71 L420.83,324.90 L420.98,325.10 L421.13,325.29 L421.28,325.49 L421.43,325.68 L421.58,325.88 L421.73,326.08 L421.88,326.28 L422.02,326.49 L422.17,326.69 L422.32,326.89 L422.47,327.10 L422.62,327.31 L422.77,327.52 L422.92,327.73 L423.07,327.94 L423.21,328.15 L423.36,328.36 L423.51,328.57 L423.66,328.79 L423.81,329.01 L423.96,329.22 L424.11,329.44 L424.26,329.66 L424.40,329.88 L424.55,330.10 L424.70,330.32 L424.85,330.54 L425.00,330.76 L425.15,330.99 L425.30,331.21 L425.45,331.44 L425.60,331.66 L425.74,331.89 L425.89,332.12 L426.04,332.35 L426.19,332.57 L426.34,332.80 L426.49,333.03 L426.64,333.26 L426.79,333.49 L426.93,333.73 L427.08,333.96 L427.23,334.19 L427.38,334.42 L427.53,334.66 L427.68,334.89 L427.83,335.12 L427.98,335.36 L428.12,335.59 L428.27,335.83 L428.42,336.06 L428.57,336.30 L428.72,336.53 L428.87,336.77 L429.02,337.01 L429.17,337.24 L429.32,337.48 L429.46,337.72 L429.61,337.95 L429.76,338.19 L429.91,338.43 L430.06,338.66 L430.21,338.90 L430.36,339.14 L430.51,339.38 L430.65,339.61 L430.80,339.85 L430.95,340.09 L431.10,340.32 L431.25,340.56 L431.40,340.80 L431.55,341.04 L431.70,341.27 L431.84,341.51 L431.99,341.74 L432.14,341.98 L432.29,342.22 L432.44,342.45 L432.59,342.69 L432.74,342.92 L432.89,343.16 L433.04,343.39 L433.18,343.62 L433.33,343.86 L433.48,344.09 L433.63,344.32 L433.78,344.56 L433.93,344.79 L434.08,345.02 L434.23,345.25 L434.37,345.48 L434.52,345.71 L434.67,345.94 L434.82,346.17 L434.97,346.40 L435.12,346.63 L435.27,346.85 L435.42,347.08 L435.56,347.31 L435.71,347.53 L435.86,347.76 L436.01,347.98 L436.16,348.21 L436.31,348.43 L436.46,348.65 L436.61,348.87 L436.76,349.09 L436.90,349.31 L437.05,349.53 L437.20,349.75 L437.35,349.97 L437.50,350.19 L437.65,350.40 L437.80,350.62 L437.95,350.84 L438.09,351.05 L438.24,351.26 L438.39,351.48 L438.54,351.69 L438.69,351.90 L438.84,352.11 L438.99,352.32 L439.14,352.52 L439.28,352.73 L439.43,352.94 L439.58,353.14 L439.73,353.35 L439.88,353.55 L440.03,353.75 L440.18,353.96 L440.33,354.16 L440.48,354.36 L440.62,354.56 L440.77,354.75 L440.92,354.95 L441.07,355.15 L441.22,355.34 L441.37,355.53 L441.52,355.73 L441.67,355.92 L441.81,356.11 L441.96,356.30 L442.11,356.49 L442.26,356.67 L442.41,356.86 L442.56,357.05 L442.71,357.23 L442.86,357.41 L443.00,357.60 L443.15,357.78 L443.30,357.96 L443.45,358.14 L443.60,358.31 L443.75,358.49 L443.90,358.67 L444.05,358.84 L444.20,359.02 L444.34,359.19 L444.49,359.36 L444.64,359.53 L444.79,359.70 L444.94,359.87 L445.09,360.03 L445.24,360.20 L445.39,360.36 L445.53,360.53 L445.68,360.69 L445.83,360.85 L445.98,361.01 L446.13,361.17 L446.28,361.33 L446.43,361.48 L446.58,361.64 L446.72,361.79 L446.87,361.95 L447.02,362.10 L447.17,362.25 L447.32,362.40 L447.47,362.55 L447.62,362.70 L447.77,362.84 L447.92,362.99 L448.06,363.13 L448.21,363.27 L448.36,363.42 L448.51,363.56 L448.66,363.70 L448.81,363.83 L448.96,363.97 L449.11,364.11 L449.25,364.24 L449.40,364.38 L449.55,364.51 L449.70,364.64 L449.85,364.77 L450.00,364.90 L450.15,365.03 L450.30,365.16 L450.44,365.28 L450.59,365.41 L450.74,365.53 L450.89,365.65 L451.04,365.78 L451.19,365.90 L451.34,366.02 L451.49,366.13 L451.64,366.25 L451.78,366.37 L451.93,366.48 L452.08,366.60 L452.23,366.71 L452.38,366.82 L452.53,366.93 L452.68,367.04 L452.83,367.15 L452.97,367.26 L453.12,367.37 L453.27,367.47 L453.42,367.58 L453.57,367.68 L453.72,367.78 L453.87,367.89 L454.02,367.99 L454.16,368.09 L454.31,368.18 L454.46,368.28 L454.61,368.38 L454.76,368.47 L454.91,368.57 L455.06,368.66 L455.21,368.75 L455.36,368.85 L455.50,368.94 L455.65,369.03 L455.80,369.12 L455.95,369.20 L456.10,369.29 L456.25,369.38 L456.40,369.46 L456.55,369.55 L456.69,369.63 L456.84,369.71 L456.99,369.79 L457.14,369.87 L457.29,369.95 L457.44,370.03 L457.59,370.11 L457.74,370.19 L457.88,370.26 L458.03,370.34 L458.18,370.41 L458.33,370.48 L458.48,370.56 L458.63,370.63 L458.78,370.70 L458.93,370.77 L459.08,370.84 L459.22,370.91 L459.37,370.98 L459.52,371.04 L459.67,371.11 L459.82,371.17 L459.97,371.24 L460.12,371.30 L460.27,371.37 L460.41,371.43 L460.56,371.49 L460.71,371.55 L460.86,371.61 L461.01,371.67 L461.16,371.73 L461.31,371.79 L461.46,371.84 L461.60,371.90 L461.75,371.95 L461.90,372.01 L462.05,372.06 L462.20,372.12 L462.35,372.17 L462.50,372.22 L462.65,372.27 L462.80,372.32 L462.94,372.37 L463.09,372.42 L463.24,372.47 L463.39,372.52 L463.54,372.57 L463.69,372.61 L463.84,372.66 L463.99,372.71 L464.13,372.75 L464.28,372.80 L464.43,372.84 L464.58,372.88 L464.73,372.93 L464.88,372.97 L465.03,373.01 L465.18,373.05 L465.32,373.09 L465.47,373.13 L465.62,373.17 L465.77,373.21 L465.92,373.25 L466.07,373.28 L466.22,373.32 L466.37,373.36 L466.52,373.39 L466.66,373.43 L466.81,373.46 L466.96,373.50 L467.11,373.53 L467.26,373.57 L467.41,373.60 L467.56,373.63 L467.71,373.66 L467.85,373.70 L468.00,373.73 L468.15,373.76 L468.30,373.79 L468.45,373.82 L468.60,373.85 L468.75,373.88 L468.90,373.90 L469.04,373.93 L469.19,373.96 L469.34,373.99 L469.49,374.01 L469.64,374.04 L469.79,374.07 L469.94,374.09 L470.09,374.12 L470.24,374.14 L470.38,374.17 L470.53,374.19 L470.68,374.21 L470.83,374.24 L470.98,374.26 L471.13,374.28 L471.28,374.31 L471.43,374.33 L471.57,374.35 L471.72,374.37 L471.87,374.39 L472.02,374.41 L472.17,374.43 L472.32,374.45 L472.47,374.47 L472.62,374.49 L472.76,374.51 L472.91,374.53 L473.06,374.55 L473.21,374.56 L473.36,374.58 L473.51,374.60 L473.66,374.62 L473.81,374.63 L473.96,374.65 L474.10,374.67 L474.25,374.68 L474.40,374.70 L474.55,374.71 L474.70,374.73 L474.85,374.74 L475.00,374.76 L475.15,374.77 L475.29,374.79 L475.44,374.80 L475.59,374.81 L475.74,374.83 L475.89,374.84 L476.04,374.85 L476.19,374.87 L476.34,374.88 L476.48,374.89 L476.63,374.90 L476.78,374.92 L476.93,374.93 L477.08,374.94 L477.23,374.95 L477.38,374.96 L477.53,374.97 L477.68,374.98 L477.82,374.99 L477.97,375.00 L478.12,375.01 L478.27,375.02 L478.42,375.03 L478.57,375.04 L478.72,375.05 L478.87,375.06 L479.01,375.07 L479.16,375.08 L479.31,375.09 L479.46,375.10 L479.61,375.11 L479.76,375.12 L479.91,375.12 L480.06,375.13 L480.20,375.14 L480.35,375.15 L480.50,375.15 L480.65,375.16 L480.80,375.17 L480.95,375.18 L481.10,375.18 L481.25,375.19 L481.40,375.20 L481.54,375.20 L481.69,375.21 L481.84,375.22 L481.99,375.22 L482.14,375.23 L482.29,375.24 L482.44,375.24 L482.59,375.25 L482.73,375.25 L482.88,375.26 L483.03,375.26 L483.18,375.27 L483.33,375.27 L483.48,375.28 L483.63,375.28 L483.78,375.29 L483.92,375.29 L484.07,375.30 L484.22,375.30 L484.37,375.31 L484.52,375.31 L484.67,375.32 L484.82,375.32 L484.97,375.33 L485.12,375.33 L485.26,375.33 L485.41,375.34 L485.56,375.34 L485.71,375.35 L485.86,375.35 L486.01,375.35 L486.16,375.36 L486.31,375.36 L486.45,375.36 L486.60,375.37 L486.75,375.37 L486.90,375.37 L487.05,375.38 L487.20,375.38 L487.35,375.38 L487.50,375.39 L487.64,375.39 L487.79,375.39 L487.94,375.39 L488.09,375.40 L488.24,375.40 L488.39,375.40 L488.54,375.40 L488.69,375.41 L488.84,375.41 L488.98,375.41 L489.13,375.41 L489.28,375.42 L489.43,375.42 L489.58,375.42 L489.73,375.42 L489.88,375.43 L490.03,375.43 L490.17,375.43 L490.32,375.43 L490.47,375.43 L490.62,375.44 L490.77,375.44 L490.92,375.44 L491.07,375.44 L491.22,375.44 L491.36,375.44 L491.51,375.45 L491.66,375.45 L491.81,375.45 L491.96,375.45 L492.11,375.45 L492.26,375.45 L492.41,375.46 L492.56,375.46 L492.70,375.46 L492.85,375.46 L493.00,375.46 L493.15,375.46 L493.30,375.46 L493.45,375.46 L493.60,375.47 L493.75,375.47 L493.89,375.47 L494.04,375.47 L494.19,375.47 L494.34,375.47 L494.49,375.47 L494.64,375.47 L494.79,375.47 L494.94,375.48 L495.08,375.48 L495.23,375.48 L495.38,375.48 L495.53,375.48 L495.68,375.48 L495.83,375.48 L495.98,375.48 L496.13,375.48 L496.28,375.48 L496.42,375.48 L496.57,375.48 L496.72,375.49 L496.87,375.49 L497.02,375.49 L497.17,375.49 L497.32,375.49 L497.47,375.49 L497.61,375.49 L497.76,375.49 L497.91,375.49 L498.06,375.49 L498.21,375.49 L498.36,375.49 L498.51,375.49 L498.66,375.49 L498.80,375.49 L498.95,375.49 L499.10,375.50 L499.25,375.50 L499.40,375.50 L499.55,375.50 L499.70,375.50 L499.85,375.50 L500.00,375.50 L500.14,375.50 L500.29,375.50 L500.44,375.50 L500.59,375.50 L500.74,375.50 L500.89,375.50 L501.04,375.50 L501.19,375.50 L501.33,375.50 L501.48,375.50 L501.63,375.50 L501.78,375.50 L501.93,375.50 L502.08,375.50 L502.23,375.50 L502.38,375.50 L502.52,375.50 L502.67,375.50 L502.82,375.50 L502.97,375.50 L503.12,375.51 L503.27,375.51 L503.42,375.51 L503.57,375.51 L503.72,375.51 L503.86,375.51 L504.01,375.51 L504.16,375.51 L504.31,375.51 L504.46,375.51 L504.61,375.51 L504.76,375.51 L504.91,375.51 L505.05,375.51 L505.20,375.51 L505.35,375.51 L505.50,375.51 L505.65,375.51 L505.80,375.51 L505.95,375.51 L506.10,375.51 L506.24,375.51 L506.39,375.51 L506.54,375.51 L506.69,375.51 L506.84,375.51 L506.99,375.51 L507.14,375.51 L507.29,375.51 L507.44,375.51 L507.58,375.51 L507.73,375.51 L507.88,375.51 L508.03,375.51 L508.18,375.51 L508.33,375.51 L508.48,375.51 L508.63,375.51 L508.77,375.51 L508.92,375.51 L509.07,375.51 L509.22,375.51 L509.37,375.51 L509.52,375.51 L509.67,375.51 L509.82,375.51 L509.96,375.51 L510.11,375.51 L510.26,375.51 L510.41,375.51 L510.56,375.51 L510.71,375.51 L510.86,375.51 L511.01,375.51 L511.16,375.51 L511.30,375.51 L511.45,375.51 L511.60,375.51 L511.75,375.51 L511.90,375.51 L512.05,375.51 L512.20,375.51 L512.35,375.51 L512.49,375.51 L512.64,375.51 L512.79,375.51 L512.94,375.51 L513.09,375.51 L513.24,375.51 L513.39,375.51 L513.54,375.51 L513.68,375.51 L513.83,375.51 L513.98,375.51 L514.13,375.51 L514.28,375.51 L514.43,375.51 L514.58,375.51 L514.73,375.51 L514.88,375.51 L515.02,375.51 L515.17,375.51 L515.32,375.51 L515.47,375.51 L515.62,375.51 L515.77,375.51 L515.92,375.51 L516.07,375.51 L516.21,375.51 L516.36,375.51 L516.51,375.51 L516.66,375.51 L516.81,375.51 L516.96,375.51 L517.11,375.51 L517.26,375.51 L517.40,375.51 L517.55,375.51 L517.70,375.51 L517.85,375.51 L518.00,375.51 L518.15,375.51 L518.30,375.51 L518.45,375.51 L518.60,375.51 L518.74,375.51 L518.89,375.51 L519.04,375.51 L519.19,375.51 L519.34,375.51 L519.49,375.51 L519.64,375.51 L519.79,375.51 L519.93,375.51 L520.08,375.51 L520.23,375.51 L520.38,375.51 L520.53,375.51 L520.68,375.51 L520.83,375.51 L520.98,375.51 L521.12,375.51 L521.27,375.51 L521.42,375.51 L521.57,375.51 L521.72,375.51 L521.87,375.51 L522.02,375.51 L522.17,375.51 L522.32,375.51 L522.46,375.51 L522.61,375.51 L522.76,375.51 L522.91,375.51 L523.06,375.51 L523.21,375.51 L523.36,375.51 L523.51,375.51 L523.65,375.51 L523.80,375.51 L523.95,375.51 L524.10,375.51 L524.25,375.51 L524.40,375.51 L524.55,375.51 L524.70,375.51 L524.84,375.51 L524.99,375.51 L525.14,375.51 L525.29,375.51 L525.44,375.51 L525.59,375.51 L525.74,375.51 L525.89,375.51 L526.04,375.51 L526.18,375.51 L526.33,375.51 L526.48,375.51 L526.63,375.51 L526.78,375.51 L526.93,375.51 L527.08,375.51 L527.23,375.51 L527.37,375.51 L527.52,375.51 L527.67,375.51 L527.82,375.51 L527.97,375.51 L528.12,375.51 L528.27,375.51 L528.42,375.51 L528.56,375.51 L528.71,375.51 L528.86,375.51 L529.01,375.51 L529.16,375.51" fill="none" stroke="#ff0000" stroke-width="2.50" stroke-linejoin="round" stroke-linecap="round"/>
<rect x="75.50" y="8.20" width="461.10" height="370.30" fill="none" stroke="#000" stroke-width="1.40"/>
<line x1="90.20" y1="378.50" x2="90.20" y2="373.50" stroke="#000" stroke-width="1.30"/>
<line x1="134.84" y1="378.50" x2="134.84" y2="373.50" stroke="#000" stroke-width="1.30"/>
<line x1="179.48" y1="378.50" x2="179.48" y2="373.50" stroke="#000" stroke-width="1.30"/>
<line x1="224.12" y1="378.50" x2="224.12" y2="373.50" stroke="#000" stroke-width="1.30"/>
<line x1="268.76" y1="378.50" x2="268.76" y2="373.50" stroke="#000" stroke-width="1.30"/>
<line x1="313.40" y1="378.50" x2="313.40" y2="373.50" stroke="#000" stroke-width="1.30"/>
<line x1="358.04" y1="378.50" x2="358.04" y2="373.50" stroke="#000" stroke-width="1.30"/>
<line x1="402.68" y1="378.50" x2="402.68" y2="373.50" stroke="#000" stroke-width="1.30"/>
<line x1="447.32" y1="378.50" x2="447.32" y2="373.50" stroke="#000" stroke-width="1.30"/>
<line x1="491.96" y1="378.50" x2="491.96" y2="373.50" stroke="#000" stroke-width="1.30"/>
<line x1="536.60" y1="378.50" x2="536.60" y2="373.50" stroke="#000" stroke-width="1.30"/>
<line x1="75.50" y1="378.90" x2="80.50" y2="378.90" stroke="#000" stroke-width="1.30"/>
<line x1="75.50" y1="338.56" x2="80.50" y2="338.56" stroke="#000" stroke-width="1.30"/>
<line x1="75.50" y1="298.22" x2="80.50" y2="298.22" stroke="#000" stroke-width="1.30"/>
<line x1="75.50" y1="257.89" x2="80.50" y2="257.89" stroke="#000" stroke-width="1.30"/>
<line x1="75.50" y1="217.55" x2="80.50" y2="217.55" stroke="#000" stroke-width="1.30"/>
<line x1="75.50" y1="177.21" x2="80.50" y2="177.21" stroke="#000" stroke-width="1.30"/>
<line x1="75.50" y1="136.87" x2="80.50" y2="136.87" stroke="#000" stroke-width="1.30"/>
<line x1="75.50" y1="96.53" x2="80.50" y2="96.53" stroke="#000" stroke-width="1.30"/>
<line x1="75.50" y1="56.20" x2="80.50" y2="56.20" stroke="#000" stroke-width="1.30"/>
<line x1="75.50" y1="15.86" x2="80.50" y2="15.86" stroke="#000" stroke-width="1.30"/>
<text transform="translate(90.20,399.30) scale(1,1.020)" font-size="17.30" text-anchor="middle">3.0</text>
<text transform="translate(134.84,399.30) scale(1,1.020)" font-size="17.30" text-anchor="middle">3.6</text>
<text transform="translate(179.48,399.30) scale(1,1.020)" font-size="17.30" text-anchor="middle">4.2</text>
<text transform="translate(224.12,399.30) scale(1,1.020)" font-size="17.30" text-anchor="middle">4.8</text>
<text transform="translate(268.76,399.30) scale(1,1.020)" font-size="17.30" text-anchor="middle">5.4</text>
<text transform="translate(313.40,399.30) scale(1,1.020)" font-size="17.30" text-anchor="middle">6.0</text>
<text transform="translate(358.04,399.30) scale(1,1.020)" font-size="17.30" text-anchor="middle">6.6</text>
<text transform="translate(402.68,399.30) scale(1,1.020)" font-size="17.30" text-anchor="middle">7.2</text>
<text transform="translate(447.32,399.30) scale(1,1.020)" font-size="17.30" text-anchor="middle">7.8</text>
<text transform="translate(491.96,399.30) scale(1,1.020)" font-size="17.30" text-anchor="middle">8.4</text>
<text transform="translate(536.60,399.30) scale(1,1.020)" font-size="17.30" text-anchor="middle">9.0</text>
<text transform="translate(69.50,384.50) scale(1,1.020)" font-size="17.30" text-anchor="end">0</text>
<text transform="translate(69.50,344.16) scale(1,1.020)" font-size="17.30" text-anchor="end">1500</text>
<text transform="translate(69.50,303.82) scale(1,1.020)" font-size="17.30" text-anchor="end">3000</text>
<text transform="translate(69.50,263.49) scale(1,1.020)" font-size="17.30" text-anchor="end">4500</text>
<text transform="translate(69.50,223.15) scale(1,1.020)" font-size="17.30" text-anchor="end">6000</text>
<text transform="translate(69.50,182.81) scale(1,1.020)" font-size="17.30" text-anchor="end">7500</text>
<text transform="translate(69.50,142.47) scale(1,1.020)" font-size="17.30" text-anchor="end">9000</text>
<text transform="translate(69.50,102.13) scale(1,1.020)" font-size="17.30" text-anchor="end">10500</text>
<text transform="translate(69.50,61.80) scale(1,1.020)" font-size="17.30" text-anchor="end">12000</text>
<text transform="translate(69.50,21.46) scale(1,1.020)" font-size="17.30" text-anchor="end">13500</text>
<text transform="translate(305.30,426.80) scale(1,1.020)" font-size="17.30" text-anchor="middle">Torque (N&#183;m)</text>
<text transform="translate(18.80,192.90) rotate(-90) scale(1,1.020)" font-size="17.30" text-anchor="middle">Counts</text>
<text transform="translate(163.00,51.30) scale(1,1.020)" font-size="17.50" font-weight="bold" fill="#8000ff">(5.39 , 12,857)</text>
<text transform="translate(93.00,308.00) scale(1,1.020)" font-size="17.50" font-weight="bold" fill="#8000ff">(3.78 , 2296)</text>
<text transform="translate(168.00,258.00) scale(1,1.020)" font-size="17.50" font-weight="bold" fill="#8000ff">(4.76 , 4184)</text>
<text transform="translate(339.30,187.40) scale(1,1.020)" font-size="17.50" font-weight="bold" fill="#8000ff">(6.19 , 7382)</text>
<text transform="translate(377.90,306.40) scale(1,1.020)" font-size="17.50" font-weight="bold" fill="#8000ff">(7.26 , 2377)</text>
<rect x="303.50" y="10.50" width="229.00" height="151.70" fill="#fff" stroke="#858585" stroke-width="1"/>
<rect x="305.50" y="13.00" width="39.00" height="18.40" fill="#00fce0" stroke="#303030" stroke-width="1.00"/>
<text transform="translate(349.10,27.70) scale(1,1.020)" font-size="17.30">Frequency of M20~M50</text>
<line x1="306.30" y1="43.50" x2="344.00" y2="43.50" stroke="#0000ff" stroke-width="2.50" stroke-linecap="round"/>
<text transform="translate(349.10,49.50) scale(1,1.020)" font-size="17.30">The first peak fitting</text>
<line x1="306.30" y1="64.80" x2="344.00" y2="64.80" stroke="#00668f" stroke-width="2.50" stroke-linecap="round"/>
<text transform="translate(349.10,70.80) scale(1,1.020)" font-size="17.30">The second peak fitting</text>
<line x1="306.30" y1="86.10" x2="344.00" y2="86.10" stroke="#003f08" stroke-width="2.50" stroke-linecap="round"/>
<text transform="translate(349.10,92.10) scale(1,1.020)" font-size="17.30">The third peak fitting</text>
<line x1="306.30" y1="107.40" x2="344.00" y2="107.40" stroke="#8a6c00" stroke-width="2.50" stroke-linecap="round"/>
<text transform="translate(349.10,113.40) scale(1,1.020)" font-size="17.30">The fourth peak fitting</text>
<line x1="306.30" y1="128.60" x2="344.00" y2="128.60" stroke="#aa3800" stroke-width="2.50" stroke-linecap="round"/>
<text transform="translate(349.10,134.60) scale(1,1.020)" font-size="17.30">The fifth peak fitting</text>
<line x1="306.30" y1="150.10" x2="344.00" y2="150.10" stroke="#ff0000" stroke-width="2.50" stroke-linecap="round"/>
<text transform="translate(349.10,156.10) scale(1,1.020)" font-size="17.30">Accumulation peak fitting</text>
</svg></body></html>
